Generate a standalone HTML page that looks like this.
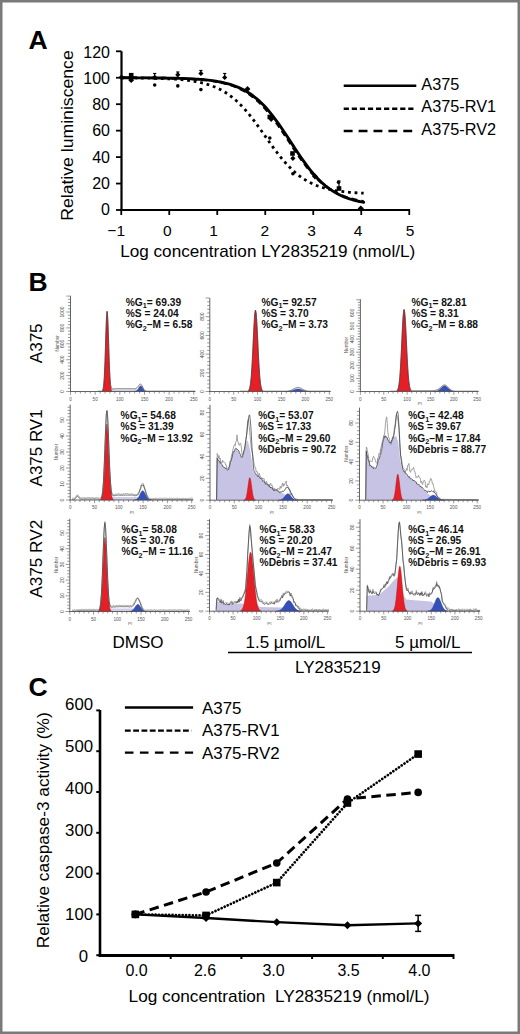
<!DOCTYPE html>
<html><head><meta charset="utf-8"><style>
html,body{margin:0;padding:0;background:#fff;width:520px;height:1034px;overflow:hidden;}

svg{position:absolute;left:0;top:0;}
text{font-family:"Liberation Sans",sans-serif;}
</style></head><body>
<svg width="520" height="1034" viewBox="0 0 520 1034" font-family="Liberation Sans, sans-serif">
<text x="28.50" y="49.00" font-size="26.5" text-anchor="start" font-weight="bold" fill="#000" >A</text>
<line x1="121.50" y1="51.30" x2="121.50" y2="211.00" stroke="#000" stroke-width="2.2" />
<line x1="120.50" y1="210.00" x2="409.50" y2="210.00" stroke="#000" stroke-width="2.2" />
<line x1="116.00" y1="210.00" x2="121.50" y2="210.00" stroke="#000" stroke-width="1.8" />
<text x="110.00" y="214.58" font-size="16" text-anchor="end" fill="#000" >0</text>
<line x1="116.00" y1="183.55" x2="121.50" y2="183.55" stroke="#000" stroke-width="1.8" />
<text x="110.00" y="188.55" font-size="16" text-anchor="end" fill="#000" >20</text>
<line x1="116.00" y1="157.10" x2="121.50" y2="157.10" stroke="#000" stroke-width="1.8" />
<text x="110.00" y="162.52" font-size="16" text-anchor="end" fill="#000" >40</text>
<line x1="116.00" y1="130.65" x2="121.50" y2="130.65" stroke="#000" stroke-width="1.8" />
<text x="110.00" y="136.49" font-size="16" text-anchor="end" fill="#000" >60</text>
<line x1="116.00" y1="104.20" x2="121.50" y2="104.20" stroke="#000" stroke-width="1.8" />
<text x="110.00" y="110.46" font-size="16" text-anchor="end" fill="#000" >80</text>
<line x1="116.00" y1="77.75" x2="121.50" y2="77.75" stroke="#000" stroke-width="1.8" />
<text x="110.00" y="84.43" font-size="16" text-anchor="end" fill="#000" >100</text>
<line x1="116.00" y1="51.30" x2="121.50" y2="51.30" stroke="#000" stroke-width="1.8" />
<text x="110.00" y="58.40" font-size="16" text-anchor="end" fill="#000" >120</text>
<line x1="121.25" y1="209.00" x2="121.25" y2="215.00" stroke="#000" stroke-width="1.8" />
<line x1="169.25" y1="209.00" x2="169.25" y2="215.00" stroke="#000" stroke-width="1.8" />
<line x1="217.25" y1="209.00" x2="217.25" y2="215.00" stroke="#000" stroke-width="1.8" />
<line x1="265.25" y1="209.00" x2="265.25" y2="215.00" stroke="#000" stroke-width="1.8" />
<line x1="313.25" y1="209.00" x2="313.25" y2="215.00" stroke="#000" stroke-width="1.8" />
<line x1="361.25" y1="209.00" x2="361.25" y2="215.00" stroke="#000" stroke-width="1.8" />
<line x1="409.25" y1="209.00" x2="409.25" y2="215.00" stroke="#000" stroke-width="1.8" />
<text x="116.20" y="236.30" font-size="15.5" text-anchor="middle" fill="#000" >&#8722;1</text>
<text x="167.40" y="236.30" font-size="15.5" text-anchor="middle" fill="#000" >0</text>
<text x="213.50" y="236.30" font-size="15.5" text-anchor="middle" fill="#000" >1</text>
<text x="264.90" y="236.30" font-size="15.5" text-anchor="middle" fill="#000" >2</text>
<text x="311.50" y="236.30" font-size="15.5" text-anchor="middle" fill="#000" >3</text>
<text x="358.10" y="236.30" font-size="15.5" text-anchor="middle" fill="#000" >4</text>
<text x="410.00" y="236.30" font-size="15.5" text-anchor="middle" fill="#000" >5</text>
<text x="120.20" y="257.30" font-size="16.6" text-anchor="start" fill="#000" textLength="295" lengthAdjust="spacingAndGlyphs">Log concentration LY2835219 (nmol/L)</text>
<text transform="translate(72.9,220.8) rotate(-90)" font-size="17" textLength="170.5" lengthAdjust="spacingAndGlyphs">Relative luminiscence</text>
<polyline points="121.25,77.79 123.27,77.79 125.29,77.80 127.31,77.80 129.33,77.81 131.35,77.81 133.37,77.82 135.39,77.82 137.41,77.83 139.43,77.84 141.45,77.85 143.47,77.86 145.49,77.87 147.51,77.88 149.53,77.90 151.55,77.91 153.57,77.93 155.59,77.95 157.61,77.97 159.63,77.99 161.65,78.01 163.67,78.04 165.69,78.07 167.71,78.10 169.73,78.14 171.75,78.18 173.77,78.22 175.79,78.27 177.81,78.32 179.83,78.38 181.85,78.44 183.87,78.51 185.89,78.59 187.91,78.67 189.93,78.76 191.95,78.87 193.97,78.98 195.99,79.10 198.01,79.24 200.03,79.39 202.05,79.55 204.07,79.73 206.09,79.93 208.11,80.15 210.13,80.39 212.15,80.65 214.17,80.93 216.19,81.25 218.21,81.60 220.23,81.97 222.25,82.39 224.27,82.84 226.29,83.34 228.31,83.88 230.33,84.47 232.35,85.11 234.37,85.82 236.39,86.58 238.41,87.41 240.43,88.31 242.45,89.29 244.47,90.35 246.49,91.49 248.51,92.73 250.53,94.06 252.55,95.49 254.57,97.02 256.59,98.66 258.61,100.42 260.63,102.28 262.65,104.26 264.67,106.36 266.69,108.57 268.71,110.90 270.73,113.33 272.75,115.88 274.77,118.52 276.79,121.27 278.81,124.09 280.83,127.00 282.85,129.97 284.87,133.00 286.89,136.06 288.91,139.15 290.93,142.26 292.95,145.36 294.97,148.45 296.99,151.51 299.01,154.52 301.03,157.48 303.05,160.37 305.07,163.18 307.09,165.90 309.11,168.52 311.13,171.04 313.15,173.45 315.17,175.75 317.19,177.93 319.21,180.00 321.23,181.95 323.25,183.79 325.27,185.52 327.29,187.13 329.31,188.64 331.33,190.05 333.35,191.36 335.37,192.57 337.39,193.69 339.41,194.73 341.43,195.69 343.45,196.58 345.47,197.39 347.49,198.14 349.51,198.83 351.53,199.46 353.55,200.04 355.57,200.57 357.59,201.05 359.61,201.50 361.63,201.90 363.65,202.27" fill="none" stroke="#000" stroke-width="2.9" stroke-linecap="round"/>
<polyline points="121.25,77.79 123.27,77.80 125.29,77.80 127.31,77.80 129.33,77.81 131.35,77.82 133.37,77.82 135.39,77.83 137.41,77.84 139.43,77.85 141.45,77.86 143.47,77.87 145.49,77.88 147.51,77.89 149.53,77.91 151.55,77.93 153.57,77.94 155.59,77.96 157.61,77.98 159.63,78.01 161.65,78.03 163.67,78.06 165.69,78.10 167.71,78.13 169.73,78.17 171.75,78.21 173.77,78.26 175.79,78.31 177.81,78.37 179.83,78.43 181.85,78.50 183.87,78.57 185.89,78.66 187.91,78.75 189.93,78.85 191.95,78.96 193.97,79.08 195.99,79.21 198.01,79.36 200.03,79.52 202.05,79.70 204.07,79.90 206.09,80.11 208.11,80.35 210.13,80.60 212.15,80.89 214.17,81.20 216.19,81.54 218.21,81.91 220.23,82.32 222.25,82.77 224.27,83.25 226.29,83.79 228.31,84.37 230.33,85.00 232.35,85.70 234.37,86.45 236.39,87.27 238.41,88.16 240.43,89.12 242.45,90.17 244.47,91.29 246.49,92.51 248.51,93.82 250.53,95.23 252.55,96.75 254.57,98.37 256.59,100.09 258.61,101.94 260.63,103.89 262.65,105.96 264.67,108.14 266.69,110.44 268.71,112.84 270.73,115.36 272.75,117.97 274.77,120.68 276.79,123.48 278.81,126.35 280.83,129.28 282.85,132.28 284.87,135.31 286.89,138.37 288.91,141.44 290.93,144.52 292.95,147.57 294.97,150.60 296.99,153.59 299.01,156.52 301.03,159.38 303.05,162.16 305.07,164.86 307.09,167.46 309.11,169.96 311.13,172.35 313.15,174.63 315.17,176.80 317.19,178.85 319.21,180.79 321.23,182.61 323.25,184.32 325.27,185.93 327.29,187.43 329.31,188.82 331.33,190.12 333.35,191.33 335.37,192.44 337.39,193.48 339.41,194.43 341.43,195.31 343.45,196.12 345.47,196.86 347.49,197.55 349.51,198.17 351.53,198.75 353.55,199.28 355.57,199.76 357.59,200.20 359.61,200.60 361.63,200.97 363.65,201.31" fill="none" stroke="#000" stroke-width="2.4" stroke-dasharray="6 4"/>
<polyline points="121.25,77.85 123.27,77.86 125.29,77.88 127.31,77.89 129.33,77.90 131.35,77.92 133.37,77.94 135.39,77.96 137.41,77.98 139.43,78.00 141.45,78.03 143.47,78.06 145.49,78.09 147.51,78.12 149.53,78.16 151.55,78.20 153.57,78.25 155.59,78.30 157.61,78.36 159.63,78.42 161.65,78.49 163.67,78.57 165.69,78.65 167.71,78.74 169.73,78.84 171.75,78.96 173.77,79.08 175.79,79.22 177.81,79.37 179.83,79.53 181.85,79.71 183.87,79.91 185.89,80.13 187.91,80.38 189.93,80.64 191.95,80.93 193.97,81.25 195.99,81.60 198.01,81.99 200.03,82.41 202.05,82.88 204.07,83.38 206.09,83.93 208.11,84.54 210.13,85.20 212.15,85.92 214.17,86.70 216.19,87.55 218.21,88.47 220.23,89.48 222.25,90.56 224.27,91.73 226.29,92.99 228.31,94.34 230.33,95.80 232.35,97.36 234.37,99.02 236.39,100.79 238.41,102.67 240.43,104.66 242.45,106.75 244.47,108.96 246.49,111.26 248.51,113.67 250.53,116.17 252.55,118.75 254.57,121.41 256.59,124.13 258.61,126.91 260.63,129.73 262.65,132.59 264.67,135.46 266.69,138.33 268.71,141.19 270.73,144.02 272.75,146.82 274.77,149.56 276.79,152.25 278.81,154.85 280.83,157.38 282.85,159.82 284.87,162.16 286.89,164.40 288.91,166.53 290.93,168.55 292.95,170.47 294.97,172.28 296.99,173.98 299.01,175.57 301.03,177.06 303.05,178.45 305.07,179.74 307.09,180.94 309.11,182.05 311.13,183.08 313.15,184.03 315.17,184.90 317.19,185.71 319.21,186.45 321.23,187.12 323.25,187.75 325.27,188.32 327.29,188.84 329.31,189.32 331.33,189.75 333.35,190.15 335.37,190.51 337.39,190.84 339.41,191.14 341.43,191.42 343.45,191.67 345.47,191.89 347.49,192.10 349.51,192.29 351.53,192.46 353.55,192.61 355.57,192.76 357.59,192.88 359.61,193.00 361.63,193.10 363.65,193.20" fill="none" stroke="#000" stroke-width="2.8" stroke-dasharray="2.8 3.8"/>
<polygon points="121.50,74.40 124.40,77.30 121.50,80.20 118.60,77.30" fill="#000"/>
<rect x="128.90" y="72.90" width="4.60" height="4.60" fill="#000"/>
<polygon points="131.20,77.30 134.10,80.20 131.20,83.10 128.30,80.20" fill="#000"/>
<line x1="154.70" y1="73.50" x2="154.70" y2="77.00" stroke="#000" stroke-width="1.2" />
<line x1="153.10" y1="73.50" x2="156.30" y2="73.50" stroke="#000" stroke-width="1.2" />
<polygon points="154.70,74.70 157.20,77.20 154.70,79.70 152.20,77.20" fill="#000"/>
<circle cx="154.70" cy="85.00" r="1.8" fill="#000"/>
<line x1="177.80" y1="72.00" x2="177.80" y2="75.00" stroke="#000" stroke-width="1.2" />
<line x1="176.20" y1="72.00" x2="179.40" y2="72.00" stroke="#000" stroke-width="1.2" />
<polygon points="177.80,72.20 180.40,74.80 177.80,77.40 175.20,74.80" fill="#000"/>
<circle cx="177.80" cy="85.90" r="1.8" fill="#000"/>
<line x1="200.90" y1="70.50" x2="200.90" y2="74.00" stroke="#000" stroke-width="1.2" />
<line x1="199.30" y1="70.50" x2="202.50" y2="70.50" stroke="#000" stroke-width="1.2" />
<polygon points="200.90,70.90 203.50,73.50 200.90,76.10 198.30,73.50" fill="#000"/>
<circle cx="200.90" cy="89.60" r="1.8" fill="#000"/>
<line x1="224.70" y1="73.50" x2="224.70" y2="77.00" stroke="#000" stroke-width="1.2" />
<line x1="223.10" y1="73.50" x2="226.30" y2="73.50" stroke="#000" stroke-width="1.2" />
<polygon points="224.70,74.90 227.30,77.50 224.70,80.10 222.10,77.50" fill="#000"/>
<polygon points="247.50,86.10 250.40,89.00 247.50,91.90 244.60,89.00" fill="#000"/>
<rect x="267.50" y="114.70" width="4.60" height="4.60" fill="#000"/>
<polygon points="271.20,117.10 273.60,119.50 271.20,121.90 268.80,119.50" fill="#000"/>
<circle cx="269.80" cy="138.00" r="1.8" fill="#000"/>
<rect x="290.20" y="151.20" width="4.60" height="4.60" fill="#000"/>
<polygon points="292.90,155.70 295.50,158.30 292.90,160.90 290.30,158.30" fill="#000"/>
<circle cx="292.90" cy="173.70" r="1.8" fill="#000"/>
<polygon points="315.00,173.50 318.00,176.50 315.00,179.50 312.00,176.50" fill="#000"/>
<circle cx="338.50" cy="182.30" r="1.8" fill="#000"/>
<rect x="336.70" y="186.20" width="4.60" height="4.60" fill="#000"/>
<line x1="339.00" y1="181.00" x2="339.00" y2="190.00" stroke="#000" stroke-width="1.2" />
<line x1="337.40" y1="181.00" x2="340.60" y2="181.00" stroke="#000" stroke-width="1.2" />
<polygon points="360.80,205.40 363.90,208.50 360.80,211.60 357.70,208.50" fill="#000"/>
<line x1="343.70" y1="85.80" x2="416.30" y2="85.80" stroke="#000" stroke-width="2.6" />
<line x1="343.70" y1="108.70" x2="416.30" y2="108.70" stroke="#000" stroke-width="2.5" stroke-dasharray="5.2 2.87"/>
<line x1="343.70" y1="131.00" x2="413.00" y2="131.00" stroke="#000" stroke-width="2.5" stroke-dasharray="8.9 6"/>
<text x="421.30" y="89.90" font-size="16.3" text-anchor="start" fill="#000" >A375</text>
<text x="421.30" y="112.40" font-size="16.3" text-anchor="start" fill="#000" >A375-RV1</text>
<text x="421.30" y="134.50" font-size="16.3" text-anchor="start" fill="#000" >A375-RV2</text>
<text x="28.50" y="696.00" font-size="26.5" text-anchor="start" font-weight="bold" fill="#000" >C</text>
<line x1="100.00" y1="710.00" x2="100.00" y2="957.00" stroke="#000" stroke-width="2.6" />
<line x1="98.70" y1="955.40" x2="454.00" y2="955.40" stroke="#000" stroke-width="3" />
<line x1="96.30" y1="710.40" x2="100.00" y2="710.40" stroke="#000" stroke-width="2" />
<line x1="96.30" y1="751.20" x2="100.00" y2="751.20" stroke="#000" stroke-width="2" />
<line x1="96.30" y1="792.00" x2="100.00" y2="792.00" stroke="#000" stroke-width="2" />
<line x1="96.30" y1="832.80" x2="100.00" y2="832.80" stroke="#000" stroke-width="2" />
<line x1="96.30" y1="873.60" x2="100.00" y2="873.60" stroke="#000" stroke-width="2" />
<line x1="96.30" y1="914.40" x2="100.00" y2="914.40" stroke="#000" stroke-width="2" />
<line x1="96.30" y1="955.20" x2="100.00" y2="955.20" stroke="#000" stroke-width="2" />
<text x="93.10" y="710.20" font-size="16.8" text-anchor="end" fill="#000" >600</text>
<text x="93.10" y="752.40" font-size="16.8" text-anchor="end" fill="#000" >500</text>
<text x="93.10" y="794.20" font-size="16.8" text-anchor="end" fill="#000" >400</text>
<text x="93.10" y="835.70" font-size="16.8" text-anchor="end" fill="#000" >300</text>
<text x="93.10" y="878.10" font-size="16.8" text-anchor="end" fill="#000" >200</text>
<text x="93.10" y="920.10" font-size="16.8" text-anchor="end" fill="#000" >100</text>
<text x="88.20" y="961.50" font-size="16.8" text-anchor="end" fill="#000" >0</text>
<line x1="170.70" y1="954.00" x2="170.70" y2="959.00" stroke="#000" stroke-width="2" />
<line x1="241.40" y1="954.00" x2="241.40" y2="959.00" stroke="#000" stroke-width="2" />
<line x1="312.10" y1="954.00" x2="312.10" y2="959.00" stroke="#000" stroke-width="2" />
<line x1="382.80" y1="954.00" x2="382.80" y2="959.00" stroke="#000" stroke-width="2" />
<line x1="453.50" y1="954.00" x2="453.50" y2="959.00" stroke="#000" stroke-width="2" />
<text x="136.60" y="976.00" font-size="16" text-anchor="middle" fill="#000" >0.0</text>
<text x="205.10" y="976.00" font-size="16" text-anchor="middle" fill="#000" >2.6</text>
<text x="273.60" y="976.00" font-size="16" text-anchor="middle" fill="#000" >3.0</text>
<text x="348.50" y="976.00" font-size="16" text-anchor="middle" fill="#000" >3.5</text>
<text x="419.40" y="976.00" font-size="16" text-anchor="middle" fill="#000" >4.0</text>
<text x="128.60" y="1002.00" font-size="16.6" text-anchor="start" fill="#000" textLength="301" lengthAdjust="spacingAndGlyphs">Log concentration&#160;&#160;LY2835219 (nmol/L)</text>
<text transform="translate(48.6,948.3) rotate(-90)" font-size="17" textLength="236" lengthAdjust="spacingAndGlyphs">Relative caspase-3 activity (%)</text>
<polyline points="135.35,914.40 206.05,918.07 276.75,922.15 347.45,925.21 418.15,923.38" fill="none" stroke="#000" stroke-width="2.4" />
<polyline points="135.35,914.40 206.05,915.42 276.75,882.58 347.45,803.02 418.15,754.06" fill="none" stroke="#000" stroke-width="2.7" stroke-dasharray="0.01 3.37" stroke-linecap="round"/>
<polyline points="135.35,914.40 206.05,891.96 276.75,862.99 347.45,798.94 418.15,792.41" fill="none" stroke="#000" stroke-width="3" stroke-dasharray="9.5 5.5"/>
<rect x="132.55" y="911.60" width="5.6" height="5.6" transform="rotate(45 135.35 914.40)" fill="#000"/>
<rect x="203.25" y="915.27" width="5.6" height="5.6" transform="rotate(45 206.05 918.07)" fill="#000"/>
<rect x="273.95" y="919.35" width="5.6" height="5.6" transform="rotate(45 276.75 922.15)" fill="#000"/>
<rect x="344.65" y="922.41" width="5.6" height="5.6" transform="rotate(45 347.45 925.21)" fill="#000"/>
<rect x="415.35" y="920.58" width="5.6" height="5.6" transform="rotate(45 418.15 923.38)" fill="#000"/>
<rect x="131.55" y="910.60" width="7.6" height="7.6" fill="#000"/>
<rect x="202.25" y="911.62" width="7.6" height="7.6" fill="#000"/>
<rect x="272.95" y="878.78" width="7.6" height="7.6" fill="#000"/>
<rect x="343.65" y="799.22" width="7.6" height="7.6" fill="#000"/>
<rect x="414.35" y="750.26" width="7.6" height="7.6" fill="#000"/>
<circle cx="135.35" cy="914.40" r="3.8" fill="#000"/>
<circle cx="206.05" cy="891.96" r="3.8" fill="#000"/>
<circle cx="276.75" cy="862.99" r="3.8" fill="#000"/>
<circle cx="347.45" cy="798.94" r="3.8" fill="#000"/>
<circle cx="418.15" cy="792.41" r="3.8" fill="#000"/>
<line x1="418.15" y1="915.38" x2="418.15" y2="931.38" stroke="#000" stroke-width="1.5" />
<line x1="415.15" y1="915.38" x2="421.15" y2="915.38" stroke="#000" stroke-width="1.5" />
<line x1="415.15" y1="931.38" x2="421.15" y2="931.38" stroke="#000" stroke-width="1.5" />
<line x1="124.90" y1="707.50" x2="193.10" y2="707.50" stroke="#000" stroke-width="2.3" />
<line x1="124.90" y1="730.60" x2="191.50" y2="730.60" stroke="#000" stroke-width="2.3" stroke-dasharray="5.8 2.5"/>
<line x1="124.90" y1="752.60" x2="193.10" y2="752.60" stroke="#000" stroke-width="2.3" stroke-dasharray="8.6 6.4"/>
<text x="202.00" y="713.80" font-size="16.9" text-anchor="start" fill="#000" >A375</text>
<text x="202.00" y="736.30" font-size="16.9" text-anchor="start" fill="#000" >A375-RV1</text>
<text x="202.00" y="758.50" font-size="16.9" text-anchor="start" fill="#000" >A375-RV2</text>
<text x="28.50" y="291.00" font-size="26.5" text-anchor="start" font-weight="bold" fill="#000" >B</text>
<text transform="translate(42.4,363.2) rotate(-90)" font-size="16.4" textLength="39.8" lengthAdjust="spacingAndGlyphs">A375</text>
<text transform="translate(42.4,486.4) rotate(-90)" font-size="16.4" textLength="77" lengthAdjust="spacingAndGlyphs">A375 RV1</text>
<text transform="translate(42.4,597.8) rotate(-90)" font-size="16.4" textLength="78" lengthAdjust="spacingAndGlyphs">A375 RV2</text>
<text x="112.50" y="647.70" font-size="17" text-anchor="start" fill="#000" >DMSO</text>
<text x="245.50" y="647.90" font-size="17" text-anchor="start" fill="#000" >1.5 &#181;mol/L</text>
<text x="395.00" y="647.90" font-size="17" text-anchor="start" fill="#000" >5 &#181;mol/L</text>
<line x1="228.00" y1="652.50" x2="472.00" y2="652.50" stroke="#000" stroke-width="1.5" />
<text x="295.00" y="673.20" font-size="17" text-anchor="start" fill="#000" >LY2835219</text>
<rect x="0" y="0" width="520" height="1034" fill="none" stroke="#7a7a7a" stroke-width="5"/>
<rect x="111.00" y="389.50" width="26.00" height="2.00" fill="#d0cde8"/>
<polygon points="102.35,391.50 102.35,390.97 102.60,390.61 102.85,390.05 103.10,389.21 103.35,387.99 103.60,386.24 103.85,383.85 104.10,380.67 104.35,376.60 104.60,371.55 104.85,365.53 105.10,358.61 105.35,350.99 105.60,342.98 105.85,334.97 106.10,327.44 106.35,320.90 106.60,315.82 106.85,312.60 107.10,311.50 107.35,312.60 107.60,315.82 107.85,320.90 108.10,327.44 108.35,334.97 108.60,342.98 108.85,350.99 109.10,358.61 109.35,365.53 109.60,371.55 109.85,376.60 110.10,380.67 110.35,383.85 110.60,386.24 110.85,387.99 111.10,389.21 111.35,390.05 111.60,390.61 111.85,390.97 111.85,391.50" fill="#e61e26" stroke="#b0141c" stroke-width="0.5"/>
<polygon points="134.35,391.50 134.35,391.46 134.60,391.44 134.85,391.41 135.10,391.37 135.35,391.32 135.60,391.26 135.85,391.17 136.10,391.06 136.35,390.92 136.60,390.76 136.85,390.55 137.10,390.31 137.35,390.03 137.60,389.71 137.85,389.36 138.10,388.98 138.35,388.58 138.60,388.16 138.85,387.75 139.10,387.35 139.35,386.98 139.60,386.65 139.85,386.37 140.10,386.17 140.35,386.04 140.60,386.00 140.85,386.04 141.10,386.17 141.35,386.37 141.60,386.65 141.85,386.98 142.10,387.35 142.35,387.75 142.60,388.16 142.85,388.58 143.10,388.98 143.35,389.36 143.60,389.71 143.85,390.03 144.10,390.31 144.35,390.55 144.60,390.76 144.85,390.92 145.10,391.06 145.35,391.17 145.60,391.26 145.85,391.32 146.10,391.37 146.35,391.41 146.60,391.44 146.85,391.46 146.85,391.50" fill="#3550b8" stroke="#243a90" stroke-width="0.5"/>
<polyline points="98.00,391.20 98.70,391.20 99.40,391.20 100.10,391.20 100.80,391.20 101.50,391.20 102.20,391.11 102.90,389.91 103.60,386.24 104.30,377.49 105.00,361.48 105.70,339.60 106.40,319.52 107.10,311.15 107.80,319.23 108.50,338.99 109.20,360.44 109.90,376.14 110.60,384.57 111.30,387.94 112.00,388.90 112.70,389.02 113.40,388.95 114.10,388.87 114.80,388.81 115.50,388.77 116.20,388.74 116.90,388.73 117.60,388.72 118.30,388.71 119.00,388.71 119.70,388.70 120.40,388.70 121.10,388.70 121.80,388.70 122.50,388.70 123.20,388.70 123.90,388.70 124.60,388.70 125.30,388.70 126.00,388.70 126.70,388.70 127.40,388.70 128.10,388.70 128.80,388.71 129.50,388.71 130.20,388.72 130.90,388.72 131.60,388.74 132.30,388.76 133.00,388.78 133.70,388.80 134.40,388.80 135.10,388.75 135.80,388.58 136.50,388.22 137.20,387.61 137.90,386.76 138.60,385.75 139.30,384.79 140.00,384.17 140.70,384.11 141.40,384.68 142.10,385.78 142.80,387.25 143.50,388.56 144.20,389.66 144.90,390.46 145.60,390.97 146.30,391.20 147.00,391.20 147.70,391.20 148.40,391.20 149.10,391.20 149.80,391.20 150.50,391.20 151.20,391.20 151.90,391.20 152.60,391.20 153.30,391.20 154.00,391.20 154.70,391.20 155.40,391.20 156.10,391.20 156.80,391.20 157.50,391.20 158.20,391.20 158.90,391.20 159.60,391.20 160.30,391.20 161.00,391.20 161.70,391.20 162.40,391.20 163.10,391.20 163.80,391.20 164.50,391.20 165.20,391.20 165.90,391.20 166.60,391.20 167.30,391.20 168.00,391.20 168.70,391.20 169.40,391.20 170.10,391.20 170.80,391.20 171.50,391.20 172.20,391.20 172.90,391.20 173.60,391.20 174.30,391.20 175.00,391.20 175.70,391.20 176.40,391.20 177.10,391.20 177.80,391.20 178.50,391.20 179.20,391.20 179.90,391.20 180.60,391.20 181.30,391.20 182.00,391.20 182.70,391.20 183.40,391.20 184.10,391.20 184.80,391.20 185.50,391.20 186.20,391.20 186.90,391.20 187.60,391.20 188.30,391.20 189.00,391.20 189.70,391.20 190.40,391.20 191.10,391.20 191.80,391.20 192.50,391.20 193.20,391.20 193.90,391.20 194.60,391.20 195.30,391.20" fill="none" stroke="#444" stroke-width="0.7"/>
<line x1="70.50" y1="295.80" x2="70.50" y2="392.00" stroke="#555" stroke-width="0.9"/>
<line x1="70.00" y1="391.50" x2="195.30" y2="391.50" stroke="#555" stroke-width="0.9"/>
<line x1="66.30" y1="391.50" x2="70.50" y2="391.50" stroke="#555" stroke-width="0.6"/>
<line x1="67.90" y1="388.32" x2="70.50" y2="388.32" stroke="#555" stroke-width="0.6"/>
<line x1="67.90" y1="385.14" x2="70.50" y2="385.14" stroke="#555" stroke-width="0.6"/>
<line x1="67.90" y1="381.96" x2="70.50" y2="381.96" stroke="#555" stroke-width="0.6"/>
<line x1="67.90" y1="378.78" x2="70.50" y2="378.78" stroke="#555" stroke-width="0.6"/>
<line x1="66.30" y1="375.60" x2="70.50" y2="375.60" stroke="#555" stroke-width="0.6"/>
<line x1="67.90" y1="372.42" x2="70.50" y2="372.42" stroke="#555" stroke-width="0.6"/>
<line x1="67.90" y1="369.24" x2="70.50" y2="369.24" stroke="#555" stroke-width="0.6"/>
<line x1="67.90" y1="366.06" x2="70.50" y2="366.06" stroke="#555" stroke-width="0.6"/>
<line x1="67.90" y1="362.88" x2="70.50" y2="362.88" stroke="#555" stroke-width="0.6"/>
<line x1="66.30" y1="359.70" x2="70.50" y2="359.70" stroke="#555" stroke-width="0.6"/>
<line x1="67.90" y1="356.52" x2="70.50" y2="356.52" stroke="#555" stroke-width="0.6"/>
<line x1="67.90" y1="353.34" x2="70.50" y2="353.34" stroke="#555" stroke-width="0.6"/>
<line x1="67.90" y1="350.16" x2="70.50" y2="350.16" stroke="#555" stroke-width="0.6"/>
<line x1="67.90" y1="346.98" x2="70.50" y2="346.98" stroke="#555" stroke-width="0.6"/>
<line x1="66.30" y1="343.80" x2="70.50" y2="343.80" stroke="#555" stroke-width="0.6"/>
<line x1="67.90" y1="340.62" x2="70.50" y2="340.62" stroke="#555" stroke-width="0.6"/>
<line x1="67.90" y1="337.44" x2="70.50" y2="337.44" stroke="#555" stroke-width="0.6"/>
<line x1="67.90" y1="334.26" x2="70.50" y2="334.26" stroke="#555" stroke-width="0.6"/>
<line x1="67.90" y1="331.08" x2="70.50" y2="331.08" stroke="#555" stroke-width="0.6"/>
<line x1="66.30" y1="327.90" x2="70.50" y2="327.90" stroke="#555" stroke-width="0.6"/>
<line x1="67.90" y1="324.72" x2="70.50" y2="324.72" stroke="#555" stroke-width="0.6"/>
<line x1="67.90" y1="321.54" x2="70.50" y2="321.54" stroke="#555" stroke-width="0.6"/>
<line x1="67.90" y1="318.36" x2="70.50" y2="318.36" stroke="#555" stroke-width="0.6"/>
<line x1="67.90" y1="315.18" x2="70.50" y2="315.18" stroke="#555" stroke-width="0.6"/>
<line x1="66.30" y1="312.00" x2="70.50" y2="312.00" stroke="#555" stroke-width="0.6"/>
<line x1="67.90" y1="308.82" x2="70.50" y2="308.82" stroke="#555" stroke-width="0.6"/>
<line x1="67.90" y1="305.64" x2="70.50" y2="305.64" stroke="#555" stroke-width="0.6"/>
<line x1="67.90" y1="302.46" x2="70.50" y2="302.46" stroke="#555" stroke-width="0.6"/>
<line x1="67.90" y1="299.28" x2="70.50" y2="299.28" stroke="#555" stroke-width="0.6"/>
<line x1="66.30" y1="296.10" x2="70.50" y2="296.10" stroke="#555" stroke-width="0.6"/>
<text transform="translate(64.30,391.50) rotate(-90)" font-size="5" text-anchor="middle" fill="#444">0</text>
<text transform="translate(64.30,375.60) rotate(-90)" font-size="5" text-anchor="middle" fill="#444">200</text>
<text transform="translate(64.30,359.70) rotate(-90)" font-size="5" text-anchor="middle" fill="#444">400</text>
<text transform="translate(64.30,343.80) rotate(-90)" font-size="5" text-anchor="middle" fill="#444">600</text>
<text transform="translate(64.30,327.90) rotate(-90)" font-size="5" text-anchor="middle" fill="#444">800</text>
<text transform="translate(64.30,312.00) rotate(-90)" font-size="5" text-anchor="middle" fill="#444">1000</text>
<text transform="translate(58.50,343.35) rotate(-90)" font-size="4.6" text-anchor="middle" fill="#555">Number</text>
<line x1="70.50" y1="391.50" x2="70.50" y2="394.70" stroke="#555" stroke-width="0.6"/>
<line x1="75.43" y1="391.50" x2="75.43" y2="393.50" stroke="#555" stroke-width="0.6"/>
<line x1="80.36" y1="391.50" x2="80.36" y2="393.50" stroke="#555" stroke-width="0.6"/>
<line x1="85.30" y1="391.50" x2="85.30" y2="393.50" stroke="#555" stroke-width="0.6"/>
<line x1="90.23" y1="391.50" x2="90.23" y2="393.50" stroke="#555" stroke-width="0.6"/>
<line x1="95.16" y1="391.50" x2="95.16" y2="394.70" stroke="#555" stroke-width="0.6"/>
<line x1="100.09" y1="391.50" x2="100.09" y2="393.50" stroke="#555" stroke-width="0.6"/>
<line x1="105.02" y1="391.50" x2="105.02" y2="393.50" stroke="#555" stroke-width="0.6"/>
<line x1="109.96" y1="391.50" x2="109.96" y2="393.50" stroke="#555" stroke-width="0.6"/>
<line x1="114.89" y1="391.50" x2="114.89" y2="393.50" stroke="#555" stroke-width="0.6"/>
<line x1="119.82" y1="391.50" x2="119.82" y2="394.70" stroke="#555" stroke-width="0.6"/>
<line x1="124.75" y1="391.50" x2="124.75" y2="393.50" stroke="#555" stroke-width="0.6"/>
<line x1="129.68" y1="391.50" x2="129.68" y2="393.50" stroke="#555" stroke-width="0.6"/>
<line x1="134.62" y1="391.50" x2="134.62" y2="393.50" stroke="#555" stroke-width="0.6"/>
<line x1="139.55" y1="391.50" x2="139.55" y2="393.50" stroke="#555" stroke-width="0.6"/>
<line x1="144.48" y1="391.50" x2="144.48" y2="394.70" stroke="#555" stroke-width="0.6"/>
<line x1="149.41" y1="391.50" x2="149.41" y2="393.50" stroke="#555" stroke-width="0.6"/>
<line x1="154.34" y1="391.50" x2="154.34" y2="393.50" stroke="#555" stroke-width="0.6"/>
<line x1="159.28" y1="391.50" x2="159.28" y2="393.50" stroke="#555" stroke-width="0.6"/>
<line x1="164.21" y1="391.50" x2="164.21" y2="393.50" stroke="#555" stroke-width="0.6"/>
<line x1="169.14" y1="391.50" x2="169.14" y2="394.70" stroke="#555" stroke-width="0.6"/>
<line x1="174.07" y1="391.50" x2="174.07" y2="393.50" stroke="#555" stroke-width="0.6"/>
<line x1="179.00" y1="391.50" x2="179.00" y2="393.50" stroke="#555" stroke-width="0.6"/>
<line x1="183.94" y1="391.50" x2="183.94" y2="393.50" stroke="#555" stroke-width="0.6"/>
<line x1="188.87" y1="391.50" x2="188.87" y2="393.50" stroke="#555" stroke-width="0.6"/>
<line x1="193.80" y1="391.50" x2="193.80" y2="394.70" stroke="#555" stroke-width="0.6"/>
<text x="70.50" y="400.50" font-size="4.6" text-anchor="middle" fill="#555">0</text>
<text x="95.16" y="400.50" font-size="4.6" text-anchor="middle" fill="#555">50</text>
<text x="119.82" y="400.50" font-size="4.6" text-anchor="middle" fill="#555">100</text>
<text x="144.48" y="400.50" font-size="4.6" text-anchor="middle" fill="#555">150</text>
<text x="169.14" y="400.50" font-size="4.6" text-anchor="middle" fill="#555">200</text>
<text x="193.80" y="400.50" font-size="4.6" text-anchor="middle" fill="#555">250</text>
<text x="125.80" y="305.50" font-size="10.2" font-weight="bold" fill="#111">%G<tspan dy="2.8" font-size="7.2">1</tspan><tspan dy="-2.8">= 69.39</tspan></text>
<text x="125.80" y="316.70" font-size="10.2" font-weight="bold" fill="#111">%S = 24.04</text>
<text x="125.80" y="327.90" font-size="10.2" font-weight="bold" fill="#111">%G<tspan dy="2.8" font-size="7.2">2</tspan><tspan dy="-2.8">&#8211;M = 6.58</tspan></text>
<polygon points="248.25,391.50 248.25,390.93 248.50,390.71 248.75,390.40 249.00,390.00 249.25,389.47 249.50,388.79 249.75,387.92 250.00,386.83 250.25,385.49 250.50,383.84 250.75,381.85 251.00,379.49 251.25,376.74 251.50,373.56 251.75,369.95 252.00,365.93 252.25,361.51 252.50,356.73 252.75,351.67 253.00,346.41 253.25,341.06 253.50,335.73 253.75,330.56 254.00,325.69 254.25,321.28 254.50,317.44 254.75,314.31 255.00,312.00 255.25,310.58 255.50,310.10 255.75,310.58 256.00,312.00 256.25,314.31 256.50,317.44 256.75,321.28 257.00,325.69 257.25,330.56 257.50,335.73 257.75,341.06 258.00,346.41 258.25,351.67 258.50,356.73 258.75,361.51 259.00,365.93 259.25,369.95 259.50,373.56 259.75,376.74 260.00,379.49 260.25,381.85 260.50,383.84 260.75,385.49 261.00,386.83 261.25,387.92 261.50,388.79 261.75,389.47 262.00,390.00 262.25,390.40 262.50,390.71 262.75,390.93 262.75,391.50" fill="#e61e26" stroke="#b0141c" stroke-width="0.5"/>
<polygon points="285.15,391.50 285.15,391.48 285.40,391.48 285.65,391.48 285.90,391.47 286.15,391.47 286.40,391.46 286.65,391.45 286.90,391.44 287.15,391.43 287.40,391.42 287.65,391.41 287.90,391.39 288.15,391.37 288.40,391.35 288.65,391.33 288.90,391.30 289.15,391.27 289.40,391.24 289.65,391.20 289.90,391.16 290.15,391.12 290.40,391.07 290.65,391.02 290.90,390.96 291.15,390.90 291.40,390.83 291.65,390.76 291.90,390.69 292.15,390.61 292.40,390.53 292.65,390.44 292.90,390.36 293.15,390.26 293.40,390.17 293.65,390.08 293.90,389.98 294.15,389.89 294.40,389.80 294.65,389.70 294.90,389.61 295.15,389.53 295.40,389.44 295.65,389.37 295.90,389.29 296.15,389.23 296.40,389.17 296.65,389.12 296.90,389.08 297.15,389.04 297.40,389.02 297.65,389.00 297.90,389.00 298.15,389.00 298.40,389.02 298.65,389.04 298.90,389.08 299.15,389.12 299.40,389.17 299.65,389.23 299.90,389.29 300.15,389.37 300.40,389.44 300.65,389.53 300.90,389.61 301.15,389.70 301.40,389.80 301.65,389.89 301.90,389.98 302.15,390.08 302.40,390.17 302.65,390.26 302.90,390.36 303.15,390.44 303.40,390.53 303.65,390.61 303.90,390.69 304.15,390.76 304.40,390.83 304.65,390.90 304.90,390.96 305.15,391.02 305.40,391.07 305.65,391.12 305.90,391.16 306.15,391.20 306.40,391.24 306.65,391.27 306.90,391.30 307.15,391.33 307.40,391.35 307.65,391.37 307.90,391.39 308.15,391.41 308.40,391.42 308.65,391.43 308.90,391.44 309.15,391.45 309.40,391.46 309.65,391.47 309.90,391.47 310.15,391.48 310.40,391.48 310.65,391.48 310.65,391.50" fill="#3550b8" stroke="#243a90" stroke-width="0.5"/>
<polyline points="240.00,391.20 240.70,391.20 241.40,391.20 242.10,391.20 242.80,391.20 243.50,391.20 244.20,391.20 244.90,391.20 245.60,391.20 246.30,391.20 247.00,391.20 247.70,391.20 248.40,390.81 249.10,389.80 249.80,387.72 250.50,383.84 251.20,377.32 251.90,367.59 252.60,354.74 253.30,339.98 254.00,325.69 254.70,314.88 255.40,310.18 256.10,312.82 256.80,322.12 257.50,335.73 258.20,350.63 258.90,364.20 259.60,374.88 260.30,382.28 261.00,386.83 261.70,389.35 262.40,390.60 263.10,391.15 263.80,391.20 264.50,391.20 265.20,391.20 265.90,391.20 266.60,391.20 267.30,391.20 268.00,391.20 268.70,391.20 269.40,391.20 270.10,391.20 270.80,391.20 271.50,391.20 272.20,391.20 272.90,391.20 273.60,391.20 274.30,391.20 275.00,391.20 275.70,391.20 276.40,391.20 277.10,391.20 277.80,391.20 278.50,391.20 279.20,391.20 279.90,391.20 280.60,391.20 281.30,391.20 282.00,391.20 282.70,391.20 283.40,391.20 284.10,391.20 284.80,391.20 285.50,391.20 286.20,391.20 286.90,391.20 287.60,391.20 288.30,391.09 289.00,390.93 289.70,390.74 290.40,390.50 291.10,390.22 291.80,389.90 292.50,389.55 293.20,389.18 293.90,388.81 294.60,388.44 295.30,388.11 296.00,387.84 296.70,387.64 297.40,387.52 298.10,387.50 298.80,387.58 299.50,387.75 300.20,387.99 300.90,388.30 301.60,388.65 302.30,389.02 303.00,389.40 303.70,389.76 304.40,390.09 305.10,390.39 305.80,390.64 306.50,390.86 307.20,391.03 307.90,391.16 308.60,391.20 309.30,391.20 310.00,391.20 310.70,391.20 311.40,391.20 312.10,391.20 312.80,391.20 313.50,391.20 314.20,391.20 314.90,391.20 315.60,391.20 316.30,391.20 317.00,391.20 317.70,391.20 318.40,391.20 319.10,391.20 319.80,391.20 320.50,391.20 321.20,391.20 321.90,391.20 322.60,391.20 323.30,391.20 324.00,391.20 324.70,391.20 325.40,391.20 326.10,391.20 326.80,391.20 327.50,391.20 328.20,391.20 328.90,391.20 329.60,391.20 330.30,391.20" fill="none" stroke="#444" stroke-width="0.7"/>
<line x1="209.80" y1="298.10" x2="209.80" y2="392.00" stroke="#555" stroke-width="0.9"/>
<line x1="209.30" y1="391.50" x2="330.80" y2="391.50" stroke="#555" stroke-width="0.9"/>
<line x1="205.60" y1="391.50" x2="209.80" y2="391.50" stroke="#555" stroke-width="0.6"/>
<line x1="207.20" y1="387.76" x2="209.80" y2="387.76" stroke="#555" stroke-width="0.6"/>
<line x1="207.20" y1="384.02" x2="209.80" y2="384.02" stroke="#555" stroke-width="0.6"/>
<line x1="207.20" y1="380.28" x2="209.80" y2="380.28" stroke="#555" stroke-width="0.6"/>
<line x1="207.20" y1="376.54" x2="209.80" y2="376.54" stroke="#555" stroke-width="0.6"/>
<line x1="205.60" y1="372.80" x2="209.80" y2="372.80" stroke="#555" stroke-width="0.6"/>
<line x1="207.20" y1="369.06" x2="209.80" y2="369.06" stroke="#555" stroke-width="0.6"/>
<line x1="207.20" y1="365.32" x2="209.80" y2="365.32" stroke="#555" stroke-width="0.6"/>
<line x1="207.20" y1="361.58" x2="209.80" y2="361.58" stroke="#555" stroke-width="0.6"/>
<line x1="207.20" y1="357.84" x2="209.80" y2="357.84" stroke="#555" stroke-width="0.6"/>
<line x1="205.60" y1="354.10" x2="209.80" y2="354.10" stroke="#555" stroke-width="0.6"/>
<line x1="207.20" y1="350.36" x2="209.80" y2="350.36" stroke="#555" stroke-width="0.6"/>
<line x1="207.20" y1="346.62" x2="209.80" y2="346.62" stroke="#555" stroke-width="0.6"/>
<line x1="207.20" y1="342.88" x2="209.80" y2="342.88" stroke="#555" stroke-width="0.6"/>
<line x1="207.20" y1="339.14" x2="209.80" y2="339.14" stroke="#555" stroke-width="0.6"/>
<line x1="205.60" y1="335.40" x2="209.80" y2="335.40" stroke="#555" stroke-width="0.6"/>
<line x1="207.20" y1="331.66" x2="209.80" y2="331.66" stroke="#555" stroke-width="0.6"/>
<line x1="207.20" y1="327.92" x2="209.80" y2="327.92" stroke="#555" stroke-width="0.6"/>
<line x1="207.20" y1="324.18" x2="209.80" y2="324.18" stroke="#555" stroke-width="0.6"/>
<line x1="207.20" y1="320.44" x2="209.80" y2="320.44" stroke="#555" stroke-width="0.6"/>
<line x1="205.60" y1="316.70" x2="209.80" y2="316.70" stroke="#555" stroke-width="0.6"/>
<line x1="207.20" y1="312.96" x2="209.80" y2="312.96" stroke="#555" stroke-width="0.6"/>
<line x1="207.20" y1="309.22" x2="209.80" y2="309.22" stroke="#555" stroke-width="0.6"/>
<line x1="207.20" y1="305.48" x2="209.80" y2="305.48" stroke="#555" stroke-width="0.6"/>
<line x1="207.20" y1="301.74" x2="209.80" y2="301.74" stroke="#555" stroke-width="0.6"/>
<line x1="205.60" y1="298.00" x2="209.80" y2="298.00" stroke="#555" stroke-width="0.6"/>
<text transform="translate(203.60,391.50) rotate(-90)" font-size="5" text-anchor="middle" fill="#444">0</text>
<text transform="translate(203.60,372.80) rotate(-90)" font-size="5" text-anchor="middle" fill="#444">200</text>
<text transform="translate(203.60,354.10) rotate(-90)" font-size="5" text-anchor="middle" fill="#444">400</text>
<text transform="translate(203.60,335.40) rotate(-90)" font-size="5" text-anchor="middle" fill="#444">600</text>
<text transform="translate(203.60,316.70) rotate(-90)" font-size="5" text-anchor="middle" fill="#444">800</text>
<line x1="209.80" y1="391.50" x2="209.80" y2="394.70" stroke="#555" stroke-width="0.6"/>
<line x1="214.58" y1="391.50" x2="214.58" y2="393.50" stroke="#555" stroke-width="0.6"/>
<line x1="219.36" y1="391.50" x2="219.36" y2="393.50" stroke="#555" stroke-width="0.6"/>
<line x1="224.14" y1="391.50" x2="224.14" y2="393.50" stroke="#555" stroke-width="0.6"/>
<line x1="228.92" y1="391.50" x2="228.92" y2="393.50" stroke="#555" stroke-width="0.6"/>
<line x1="233.70" y1="391.50" x2="233.70" y2="394.70" stroke="#555" stroke-width="0.6"/>
<line x1="238.48" y1="391.50" x2="238.48" y2="393.50" stroke="#555" stroke-width="0.6"/>
<line x1="243.26" y1="391.50" x2="243.26" y2="393.50" stroke="#555" stroke-width="0.6"/>
<line x1="248.04" y1="391.50" x2="248.04" y2="393.50" stroke="#555" stroke-width="0.6"/>
<line x1="252.82" y1="391.50" x2="252.82" y2="393.50" stroke="#555" stroke-width="0.6"/>
<line x1="257.60" y1="391.50" x2="257.60" y2="394.70" stroke="#555" stroke-width="0.6"/>
<line x1="262.38" y1="391.50" x2="262.38" y2="393.50" stroke="#555" stroke-width="0.6"/>
<line x1="267.16" y1="391.50" x2="267.16" y2="393.50" stroke="#555" stroke-width="0.6"/>
<line x1="271.94" y1="391.50" x2="271.94" y2="393.50" stroke="#555" stroke-width="0.6"/>
<line x1="276.72" y1="391.50" x2="276.72" y2="393.50" stroke="#555" stroke-width="0.6"/>
<line x1="281.50" y1="391.50" x2="281.50" y2="394.70" stroke="#555" stroke-width="0.6"/>
<line x1="286.28" y1="391.50" x2="286.28" y2="393.50" stroke="#555" stroke-width="0.6"/>
<line x1="291.06" y1="391.50" x2="291.06" y2="393.50" stroke="#555" stroke-width="0.6"/>
<line x1="295.84" y1="391.50" x2="295.84" y2="393.50" stroke="#555" stroke-width="0.6"/>
<line x1="300.62" y1="391.50" x2="300.62" y2="393.50" stroke="#555" stroke-width="0.6"/>
<line x1="305.40" y1="391.50" x2="305.40" y2="394.70" stroke="#555" stroke-width="0.6"/>
<line x1="310.18" y1="391.50" x2="310.18" y2="393.50" stroke="#555" stroke-width="0.6"/>
<line x1="314.96" y1="391.50" x2="314.96" y2="393.50" stroke="#555" stroke-width="0.6"/>
<line x1="319.74" y1="391.50" x2="319.74" y2="393.50" stroke="#555" stroke-width="0.6"/>
<line x1="324.52" y1="391.50" x2="324.52" y2="393.50" stroke="#555" stroke-width="0.6"/>
<line x1="329.30" y1="391.50" x2="329.30" y2="394.70" stroke="#555" stroke-width="0.6"/>
<text x="209.80" y="400.50" font-size="4.6" text-anchor="middle" fill="#555">0</text>
<text x="233.70" y="400.50" font-size="4.6" text-anchor="middle" fill="#555">50</text>
<text x="257.60" y="400.50" font-size="4.6" text-anchor="middle" fill="#555">100</text>
<text x="281.50" y="400.50" font-size="4.6" text-anchor="middle" fill="#555">150</text>
<text x="305.40" y="400.50" font-size="4.6" text-anchor="middle" fill="#555">200</text>
<text x="329.30" y="400.50" font-size="4.6" text-anchor="middle" fill="#555">250</text>
<text x="261.40" y="305.50" font-size="10.2" font-weight="bold" fill="#111">%G<tspan dy="2.8" font-size="7.2">1</tspan><tspan dy="-2.8">= 92.57</tspan></text>
<text x="261.40" y="316.70" font-size="10.2" font-weight="bold" fill="#111">%S = 3.70</text>
<text x="261.40" y="327.90" font-size="10.2" font-weight="bold" fill="#111">%G<tspan dy="2.8" font-size="7.2">2</tspan><tspan dy="-2.8">&#8211;M = 3.73</tspan></text>
<polygon points="396.85,391.50 396.85,390.93 397.10,390.70 397.35,390.39 397.60,389.99 397.85,389.46 398.10,388.77 398.35,387.90 398.60,386.80 398.85,385.44 399.10,383.78 399.35,381.78 399.60,379.41 399.85,376.63 400.10,373.43 400.35,369.79 400.60,365.74 400.85,361.28 401.10,356.48 401.35,351.38 401.60,346.08 401.85,340.68 402.10,335.32 402.35,330.11 402.60,325.21 402.85,320.76 403.10,316.90 403.35,313.75 403.60,311.41 403.85,309.98 404.10,309.50 404.35,309.98 404.60,311.41 404.85,313.75 405.10,316.90 405.35,320.76 405.60,325.21 405.85,330.11 406.10,335.32 406.35,340.68 406.60,346.08 406.85,351.38 407.10,356.48 407.35,361.28 407.60,365.74 407.85,369.79 408.10,373.43 408.35,376.63 408.60,379.41 408.85,381.78 409.10,383.78 409.35,385.44 409.60,386.80 409.85,387.90 410.10,388.77 410.35,389.46 410.60,389.99 410.85,390.39 411.10,390.70 411.35,390.93 411.35,391.50" fill="#e61e26" stroke="#b0141c" stroke-width="0.5"/>
<polygon points="433.50,391.50 433.50,391.46 433.75,391.45 434.00,391.44 434.25,391.42 434.50,391.41 434.75,391.39 435.00,391.36 435.25,391.33 435.50,391.30 435.75,391.26 436.00,391.21 436.25,391.16 436.50,391.10 436.75,391.03 437.00,390.95 437.25,390.86 437.50,390.76 437.75,390.64 438.00,390.52 438.25,390.38 438.50,390.23 438.75,390.07 439.00,389.90 439.25,389.71 439.50,389.52 439.75,389.31 440.00,389.09 440.25,388.87 440.50,388.64 440.75,388.40 441.00,388.16 441.25,387.93 441.50,387.69 441.75,387.46 442.00,387.24 442.25,387.03 442.50,386.83 442.75,386.65 443.00,386.48 443.25,386.34 443.50,386.22 443.75,386.12 444.00,386.06 444.25,386.01 444.50,386.00 444.75,386.01 445.00,386.06 445.25,386.12 445.50,386.22 445.75,386.34 446.00,386.48 446.25,386.65 446.50,386.83 446.75,387.03 447.00,387.24 447.25,387.46 447.50,387.69 447.75,387.93 448.00,388.16 448.25,388.40 448.50,388.64 448.75,388.87 449.00,389.09 449.25,389.31 449.50,389.52 449.75,389.71 450.00,389.90 450.25,390.07 450.50,390.23 450.75,390.38 451.00,390.52 451.25,390.64 451.50,390.76 451.75,390.86 452.00,390.95 452.25,391.03 452.50,391.10 452.75,391.16 453.00,391.21 453.25,391.26 453.50,391.30 453.75,391.33 454.00,391.36 454.25,391.39 454.50,391.41 454.75,391.42 455.00,391.44 455.25,391.45 455.50,391.46 455.50,391.50" fill="#3550b8" stroke="#243a90" stroke-width="0.5"/>
<polyline points="390.00,391.20 390.70,391.20 391.40,391.20 392.10,391.20 392.80,391.20 393.50,391.20 394.20,391.20 394.90,391.20 395.60,391.20 396.30,391.20 397.00,390.80 397.70,389.79 398.40,387.70 399.10,383.78 399.80,377.22 400.50,367.41 401.20,354.47 401.90,339.60 402.60,325.21 403.30,314.31 404.00,309.58 404.70,312.24 405.40,321.61 406.10,335.26 406.80,350.25 407.50,363.88 408.20,374.57 408.90,381.95 409.60,386.45 410.30,388.89 411.00,390.06 411.70,390.55 412.40,390.71 413.10,390.75 413.80,390.75 414.50,390.73 415.20,390.72 415.90,390.72 416.60,390.71 417.30,390.71 418.00,390.70 418.70,390.70 419.40,390.70 420.10,390.70 420.80,390.70 421.50,390.70 422.20,390.70 422.90,390.70 423.60,390.70 424.30,390.70 425.00,390.70 425.70,390.70 426.40,390.70 427.10,390.70 427.80,390.70 428.50,390.70 429.20,390.70 429.90,390.70 430.60,390.69 431.30,390.69 432.00,390.67 432.70,390.65 433.40,390.62 434.10,390.56 434.80,390.47 435.50,390.34 436.20,390.16 436.90,389.91 437.60,389.58 438.30,389.18 439.00,388.69 439.70,388.13 440.40,387.52 441.10,386.88 441.80,386.26 442.50,385.71 443.20,385.28 443.90,385.03 444.60,385.00 445.30,385.14 446.00,385.49 446.70,386.00 447.40,386.64 448.10,387.35 448.80,388.07 449.50,388.76 450.20,389.39 450.90,389.93 451.60,390.37 452.30,390.71 453.00,390.97 453.70,391.15 454.40,391.20 455.10,391.20 455.80,391.20 456.50,391.20 457.20,391.20 457.90,391.20 458.60,391.20 459.30,391.20 460.00,391.20 460.70,391.20 461.40,391.20 462.10,391.20 462.80,391.20 463.50,391.20 464.20,391.20 464.90,391.20 465.60,391.20 466.30,391.20 467.00,391.20 467.70,391.20 468.40,391.20 469.10,391.20 469.80,391.20 470.50,391.20 471.20,391.20 471.90,391.20 472.60,391.20 473.30,391.20 474.00,391.20 474.70,391.20 475.40,391.20 476.10,391.20 476.80,391.20 477.50,391.20 478.20,391.20" fill="none" stroke="#444" stroke-width="0.7"/>
<line x1="360.40" y1="299.20" x2="360.40" y2="392.00" stroke="#555" stroke-width="0.9"/>
<line x1="359.90" y1="391.50" x2="478.70" y2="391.50" stroke="#555" stroke-width="0.9"/>
<line x1="356.20" y1="391.50" x2="360.40" y2="391.50" stroke="#555" stroke-width="0.6"/>
<line x1="357.80" y1="388.88" x2="360.40" y2="388.88" stroke="#555" stroke-width="0.6"/>
<line x1="357.80" y1="386.26" x2="360.40" y2="386.26" stroke="#555" stroke-width="0.6"/>
<line x1="357.80" y1="383.64" x2="360.40" y2="383.64" stroke="#555" stroke-width="0.6"/>
<line x1="357.80" y1="381.02" x2="360.40" y2="381.02" stroke="#555" stroke-width="0.6"/>
<line x1="356.20" y1="378.40" x2="360.40" y2="378.40" stroke="#555" stroke-width="0.6"/>
<line x1="357.80" y1="375.78" x2="360.40" y2="375.78" stroke="#555" stroke-width="0.6"/>
<line x1="357.80" y1="373.16" x2="360.40" y2="373.16" stroke="#555" stroke-width="0.6"/>
<line x1="357.80" y1="370.54" x2="360.40" y2="370.54" stroke="#555" stroke-width="0.6"/>
<line x1="357.80" y1="367.92" x2="360.40" y2="367.92" stroke="#555" stroke-width="0.6"/>
<line x1="356.20" y1="365.30" x2="360.40" y2="365.30" stroke="#555" stroke-width="0.6"/>
<line x1="357.80" y1="362.68" x2="360.40" y2="362.68" stroke="#555" stroke-width="0.6"/>
<line x1="357.80" y1="360.06" x2="360.40" y2="360.06" stroke="#555" stroke-width="0.6"/>
<line x1="357.80" y1="357.44" x2="360.40" y2="357.44" stroke="#555" stroke-width="0.6"/>
<line x1="357.80" y1="354.82" x2="360.40" y2="354.82" stroke="#555" stroke-width="0.6"/>
<line x1="356.20" y1="352.20" x2="360.40" y2="352.20" stroke="#555" stroke-width="0.6"/>
<line x1="357.80" y1="349.58" x2="360.40" y2="349.58" stroke="#555" stroke-width="0.6"/>
<line x1="357.80" y1="346.96" x2="360.40" y2="346.96" stroke="#555" stroke-width="0.6"/>
<line x1="357.80" y1="344.34" x2="360.40" y2="344.34" stroke="#555" stroke-width="0.6"/>
<line x1="357.80" y1="341.72" x2="360.40" y2="341.72" stroke="#555" stroke-width="0.6"/>
<line x1="356.20" y1="339.10" x2="360.40" y2="339.10" stroke="#555" stroke-width="0.6"/>
<line x1="357.80" y1="336.48" x2="360.40" y2="336.48" stroke="#555" stroke-width="0.6"/>
<line x1="357.80" y1="333.86" x2="360.40" y2="333.86" stroke="#555" stroke-width="0.6"/>
<line x1="357.80" y1="331.24" x2="360.40" y2="331.24" stroke="#555" stroke-width="0.6"/>
<line x1="357.80" y1="328.62" x2="360.40" y2="328.62" stroke="#555" stroke-width="0.6"/>
<line x1="356.20" y1="326.00" x2="360.40" y2="326.00" stroke="#555" stroke-width="0.6"/>
<line x1="357.80" y1="323.38" x2="360.40" y2="323.38" stroke="#555" stroke-width="0.6"/>
<line x1="357.80" y1="320.76" x2="360.40" y2="320.76" stroke="#555" stroke-width="0.6"/>
<line x1="357.80" y1="318.14" x2="360.40" y2="318.14" stroke="#555" stroke-width="0.6"/>
<line x1="357.80" y1="315.52" x2="360.40" y2="315.52" stroke="#555" stroke-width="0.6"/>
<line x1="356.20" y1="312.90" x2="360.40" y2="312.90" stroke="#555" stroke-width="0.6"/>
<line x1="357.80" y1="310.28" x2="360.40" y2="310.28" stroke="#555" stroke-width="0.6"/>
<line x1="357.80" y1="307.66" x2="360.40" y2="307.66" stroke="#555" stroke-width="0.6"/>
<line x1="357.80" y1="305.04" x2="360.40" y2="305.04" stroke="#555" stroke-width="0.6"/>
<line x1="357.80" y1="302.42" x2="360.40" y2="302.42" stroke="#555" stroke-width="0.6"/>
<line x1="356.20" y1="299.80" x2="360.40" y2="299.80" stroke="#555" stroke-width="0.6"/>
<text transform="translate(354.20,391.50) rotate(-90)" font-size="5" text-anchor="middle" fill="#444">0</text>
<text transform="translate(354.20,378.40) rotate(-90)" font-size="5" text-anchor="middle" fill="#444">100</text>
<text transform="translate(354.20,365.30) rotate(-90)" font-size="5" text-anchor="middle" fill="#444">200</text>
<text transform="translate(354.20,352.20) rotate(-90)" font-size="5" text-anchor="middle" fill="#444">300</text>
<text transform="translate(354.20,339.10) rotate(-90)" font-size="5" text-anchor="middle" fill="#444">400</text>
<text transform="translate(354.20,326.00) rotate(-90)" font-size="5" text-anchor="middle" fill="#444">500</text>
<text transform="translate(354.20,312.90) rotate(-90)" font-size="5" text-anchor="middle" fill="#444">600</text>
<text transform="translate(348.40,345.05) rotate(-90)" font-size="4.6" text-anchor="middle" fill="#555">Number</text>
<line x1="360.40" y1="391.50" x2="360.40" y2="394.70" stroke="#555" stroke-width="0.6"/>
<line x1="365.07" y1="391.50" x2="365.07" y2="393.50" stroke="#555" stroke-width="0.6"/>
<line x1="369.74" y1="391.50" x2="369.74" y2="393.50" stroke="#555" stroke-width="0.6"/>
<line x1="374.42" y1="391.50" x2="374.42" y2="393.50" stroke="#555" stroke-width="0.6"/>
<line x1="379.09" y1="391.50" x2="379.09" y2="393.50" stroke="#555" stroke-width="0.6"/>
<line x1="383.76" y1="391.50" x2="383.76" y2="394.70" stroke="#555" stroke-width="0.6"/>
<line x1="388.43" y1="391.50" x2="388.43" y2="393.50" stroke="#555" stroke-width="0.6"/>
<line x1="393.10" y1="391.50" x2="393.10" y2="393.50" stroke="#555" stroke-width="0.6"/>
<line x1="397.78" y1="391.50" x2="397.78" y2="393.50" stroke="#555" stroke-width="0.6"/>
<line x1="402.45" y1="391.50" x2="402.45" y2="393.50" stroke="#555" stroke-width="0.6"/>
<line x1="407.12" y1="391.50" x2="407.12" y2="394.70" stroke="#555" stroke-width="0.6"/>
<line x1="411.79" y1="391.50" x2="411.79" y2="393.50" stroke="#555" stroke-width="0.6"/>
<line x1="416.46" y1="391.50" x2="416.46" y2="393.50" stroke="#555" stroke-width="0.6"/>
<line x1="421.14" y1="391.50" x2="421.14" y2="393.50" stroke="#555" stroke-width="0.6"/>
<line x1="425.81" y1="391.50" x2="425.81" y2="393.50" stroke="#555" stroke-width="0.6"/>
<line x1="430.48" y1="391.50" x2="430.48" y2="394.70" stroke="#555" stroke-width="0.6"/>
<line x1="435.15" y1="391.50" x2="435.15" y2="393.50" stroke="#555" stroke-width="0.6"/>
<line x1="439.82" y1="391.50" x2="439.82" y2="393.50" stroke="#555" stroke-width="0.6"/>
<line x1="444.50" y1="391.50" x2="444.50" y2="393.50" stroke="#555" stroke-width="0.6"/>
<line x1="449.17" y1="391.50" x2="449.17" y2="393.50" stroke="#555" stroke-width="0.6"/>
<line x1="453.84" y1="391.50" x2="453.84" y2="394.70" stroke="#555" stroke-width="0.6"/>
<line x1="458.51" y1="391.50" x2="458.51" y2="393.50" stroke="#555" stroke-width="0.6"/>
<line x1="463.18" y1="391.50" x2="463.18" y2="393.50" stroke="#555" stroke-width="0.6"/>
<line x1="467.86" y1="391.50" x2="467.86" y2="393.50" stroke="#555" stroke-width="0.6"/>
<line x1="472.53" y1="391.50" x2="472.53" y2="393.50" stroke="#555" stroke-width="0.6"/>
<line x1="477.20" y1="391.50" x2="477.20" y2="394.70" stroke="#555" stroke-width="0.6"/>
<text x="360.40" y="400.50" font-size="4.6" text-anchor="middle" fill="#555">0</text>
<text x="383.76" y="400.50" font-size="4.6" text-anchor="middle" fill="#555">50</text>
<text x="407.12" y="400.50" font-size="4.6" text-anchor="middle" fill="#555">100</text>
<text x="430.48" y="400.50" font-size="4.6" text-anchor="middle" fill="#555">150</text>
<text x="453.84" y="400.50" font-size="4.6" text-anchor="middle" fill="#555">200</text>
<text x="477.20" y="400.50" font-size="4.6" text-anchor="middle" fill="#555">250</text>
<text x="419.80" y="405.00" font-size="4.4" text-anchor="middle" fill="#555">PI</text>
<text x="411.40" y="305.50" font-size="10.2" font-weight="bold" fill="#111">%G<tspan dy="2.8" font-size="7.2">1</tspan><tspan dy="-2.8">= 82.81</tspan></text>
<text x="411.40" y="316.70" font-size="10.2" font-weight="bold" fill="#111">%S = 8.31</text>
<text x="411.40" y="327.90" font-size="10.2" font-weight="bold" fill="#111">%G<tspan dy="2.8" font-size="7.2">2</tspan><tspan dy="-2.8">&#8211;M = 8.88</tspan></text>
<rect x="111.50" y="497.00" width="26.50" height="3.00" fill="#d0cde8"/>
<polygon points="100.65,500.00 100.65,499.42 100.90,499.16 101.15,498.78 101.40,498.27 101.65,497.58 101.90,496.66 102.15,495.47 102.40,493.95 102.65,492.05 102.90,489.71 103.15,486.90 103.40,483.56 103.65,479.70 103.90,475.33 104.15,470.47 104.40,465.20 104.65,459.64 104.90,453.90 105.15,448.17 105.40,442.63 105.65,437.48 105.90,432.93 106.15,429.16 106.40,426.34 106.65,424.59 106.90,424.00 107.15,424.59 107.40,426.34 107.65,429.16 107.90,432.93 108.15,437.48 108.40,442.63 108.65,448.17 108.90,453.90 109.15,459.64 109.40,465.20 109.65,470.47 109.90,475.33 110.15,479.70 110.40,483.56 110.65,486.90 110.90,489.71 111.15,492.05 111.40,493.95 111.65,495.47 111.90,496.66 112.15,497.58 112.40,498.27 112.65,498.78 112.90,499.16 113.15,499.42 113.15,500.00" fill="#e61e26" stroke="#b0141c" stroke-width="0.5"/>
<polygon points="134.20,500.00 134.20,499.94 134.45,499.91 134.70,499.89 134.95,499.85 135.20,499.81 135.45,499.75 135.70,499.68 135.95,499.60 136.20,499.49 136.45,499.37 136.70,499.22 136.95,499.05 137.20,498.84 137.45,498.61 137.70,498.34 137.95,498.04 138.20,497.71 138.45,497.33 138.70,496.93 138.95,496.49 139.20,496.03 139.45,495.54 139.70,495.04 139.95,494.52 140.20,494.01 140.45,493.50 140.70,493.01 140.95,492.54 141.20,492.12 141.45,491.73 141.70,491.41 141.95,491.15 142.20,490.96 142.45,490.84 142.70,490.80 142.95,490.84 143.20,490.96 143.45,491.15 143.70,491.41 143.95,491.73 144.20,492.12 144.45,492.54 144.70,493.01 144.95,493.50 145.20,494.01 145.45,494.52 145.70,495.04 145.95,495.54 146.20,496.03 146.45,496.49 146.70,496.93 146.95,497.33 147.20,497.71 147.45,498.04 147.70,498.34 147.95,498.61 148.20,498.84 148.45,499.05 148.70,499.22 148.95,499.37 149.20,499.49 149.45,499.60 149.70,499.68 149.95,499.75 150.20,499.81 150.45,499.85 150.70,499.89 150.95,499.91 151.20,499.94 151.20,500.00" fill="#3550b8" stroke="#243a90" stroke-width="0.5"/>
<polyline points="72.00,498.36 72.70,498.27 73.40,498.19 74.10,498.60 74.80,498.11 75.50,497.14 76.20,496.31 76.90,495.12 77.60,494.96 78.30,495.50 79.00,496.79 79.70,497.09 80.40,497.82 81.10,497.80 81.80,498.19 82.50,497.85 83.20,497.78 83.90,497.80 84.60,497.87 85.30,498.02 86.00,497.71 86.70,498.06 87.40,497.53 88.10,497.64 88.80,497.52 89.50,497.52 90.20,498.00 90.90,497.97 91.60,497.58 92.30,497.58 93.00,497.75 93.70,497.99 94.40,498.05 95.10,498.02 95.80,497.92 96.50,497.63 97.20,497.86 97.90,497.78 98.60,498.10 99.30,498.20 100.00,497.96 100.70,497.80 101.40,497.43 102.10,494.72 102.80,490.54 103.50,480.80 104.20,466.21 104.90,447.09 105.60,428.71 106.30,413.75 107.00,409.93 107.70,417.31 108.40,432.77 109.10,452.57 109.80,470.29 110.50,481.60 111.20,489.68 111.90,493.18 112.60,493.84 113.30,494.65 114.00,494.86 114.70,494.44 115.40,494.29 116.10,494.13 116.80,494.04 117.50,494.04 118.20,493.45 118.90,494.09 119.60,494.10 120.30,494.19 121.00,494.18 121.70,494.24 122.40,494.51 123.10,493.52 123.80,493.98 124.50,494.32 125.20,493.42 125.90,493.97 126.60,493.65 127.30,493.55 128.00,494.15 128.70,494.22 129.40,493.80 130.10,494.12 130.80,494.31 131.50,493.65 132.20,494.09 132.90,494.12 133.60,494.50 134.30,494.66 135.00,494.56 135.70,494.42 136.40,494.54 137.10,494.44 137.80,493.92 138.50,492.91 139.20,491.30 139.90,489.19 140.60,487.36 141.30,484.55 142.00,483.53 142.70,484.04 143.40,483.57 144.10,486.25 144.80,488.32 145.50,490.21 146.20,492.61 146.90,494.81 147.60,496.07 148.30,497.31 149.00,498.19 149.70,498.33 150.40,498.27 151.10,498.79 151.80,498.66 152.50,498.40 153.20,498.41 153.90,498.52 154.60,498.57 155.30,498.30 156.00,498.14 156.70,498.29 157.40,498.70 158.10,498.24 158.80,498.47 159.50,498.28 160.20,498.29 160.90,498.26 161.60,498.43 162.30,498.26 163.00,498.16 163.70,498.22 164.40,498.26 165.10,498.49 165.80,498.18 166.50,498.16 167.20,498.46 167.90,498.43 168.60,498.65 169.30,498.18 170.00,498.43 170.70,498.43 171.40,498.16 172.10,498.84 172.80,498.30 173.50,498.21 174.20,498.48 174.90,498.26 175.60,498.59 176.30,498.39 177.00,498.23 177.70,498.18 178.40,498.66 179.10,498.34 179.80,498.71 180.50,498.48 181.20,498.81 181.90,498.36 182.60,498.32 183.30,498.33 184.00,498.73 184.70,498.59 185.40,498.39 186.10,498.21 186.80,498.63 187.50,498.84 188.20,498.57 188.90,498.14 189.60,498.16 190.30,498.21 191.00,498.26 191.70,498.17 192.40,498.18 193.10,498.61" fill="none" stroke="#9a9a9a" stroke-width="0.9"/>
<polyline points="72.00,499.70 72.70,499.70 73.40,499.70 74.10,499.64 74.80,499.13 75.50,498.31 76.20,497.34 76.90,496.42 77.60,496.33 78.30,496.79 79.00,497.73 79.70,498.62 80.40,499.02 81.10,499.18 81.80,499.19 82.50,499.15 83.20,499.10 83.90,499.07 84.60,499.04 85.30,499.03 86.00,499.02 86.70,499.01 87.40,499.01 88.10,499.00 88.80,499.00 89.50,499.00 90.20,499.00 90.90,499.00 91.60,499.00 92.30,499.01 93.00,499.01 93.70,499.01 94.40,499.02 95.10,499.04 95.80,499.06 96.50,499.09 97.20,499.13 97.90,499.20 98.60,499.28 99.30,499.36 100.00,499.38 100.70,499.18 101.40,498.43 102.10,496.25 102.80,491.52 103.50,481.72 104.20,467.09 104.90,448.38 105.60,429.87 106.30,414.89 107.00,411.04 107.70,418.16 108.40,433.83 109.10,453.92 109.80,471.23 110.50,482.81 111.20,490.80 111.90,494.21 112.60,495.40 113.30,495.66 114.00,495.94 114.70,495.64 115.40,495.47 116.10,495.36 116.80,495.46 117.50,495.21 118.20,494.98 118.90,495.29 119.60,495.19 120.30,495.43 121.00,495.34 121.70,495.11 122.40,495.43 123.10,494.98 123.80,494.97 124.50,495.43 125.20,494.95 125.90,495.27 126.60,495.05 127.30,495.06 128.00,495.32 128.70,495.11 129.40,495.13 130.10,495.05 130.80,495.37 131.50,495.12 132.20,495.03 132.90,495.25 133.60,495.39 134.30,495.70 135.00,495.59 135.70,495.73 136.40,495.52 137.10,495.33 137.80,494.86 138.50,494.16 139.20,492.32 139.90,490.40 140.60,488.84 141.30,486.08 142.00,485.04 142.70,485.45 143.40,485.02 144.10,487.45 144.80,489.38 145.50,491.38 146.20,493.87 146.90,495.90 147.60,497.42 148.30,498.53 149.00,499.20 149.70,499.60 150.40,499.70 151.10,499.70 151.80,499.70 152.50,499.70 153.20,499.70 153.90,499.70 154.60,499.70 155.30,499.70 156.00,499.70 156.70,499.70 157.40,499.70 158.10,499.70 158.80,499.70 159.50,499.70 160.20,499.70 160.90,499.70 161.60,499.70 162.30,499.70 163.00,499.70 163.70,499.70 164.40,499.70 165.10,499.70 165.80,499.70 166.50,499.70 167.20,499.70 167.90,499.70 168.60,499.70 169.30,499.70 170.00,499.70 170.70,499.70 171.40,499.70 172.10,499.70 172.80,499.70 173.50,499.70 174.20,499.70 174.90,499.70 175.60,499.70 176.30,499.70 177.00,499.70 177.70,499.70 178.40,499.70 179.10,499.70 179.80,499.70 180.50,499.70 181.20,499.70 181.90,499.70 182.60,499.70 183.30,499.70 184.00,499.70 184.70,499.70 185.40,499.70 186.10,499.70 186.80,499.70 187.50,499.70 188.20,499.70 188.90,499.70 189.60,499.70 190.30,499.70 191.00,499.70 191.70,499.70 192.40,499.70 193.10,499.70" fill="none" stroke="#444" stroke-width="0.7"/>
<line x1="70.20" y1="404.60" x2="70.20" y2="500.50" stroke="#555" stroke-width="0.9"/>
<line x1="69.70" y1="500.00" x2="193.20" y2="500.00" stroke="#555" stroke-width="0.9"/>
<line x1="66.00" y1="500.00" x2="70.20" y2="500.00" stroke="#555" stroke-width="0.6"/>
<line x1="67.60" y1="496.80" x2="70.20" y2="496.80" stroke="#555" stroke-width="0.6"/>
<line x1="67.60" y1="493.60" x2="70.20" y2="493.60" stroke="#555" stroke-width="0.6"/>
<line x1="67.60" y1="490.40" x2="70.20" y2="490.40" stroke="#555" stroke-width="0.6"/>
<line x1="67.60" y1="487.20" x2="70.20" y2="487.20" stroke="#555" stroke-width="0.6"/>
<line x1="66.00" y1="484.00" x2="70.20" y2="484.00" stroke="#555" stroke-width="0.6"/>
<line x1="67.60" y1="480.80" x2="70.20" y2="480.80" stroke="#555" stroke-width="0.6"/>
<line x1="67.60" y1="477.60" x2="70.20" y2="477.60" stroke="#555" stroke-width="0.6"/>
<line x1="67.60" y1="474.40" x2="70.20" y2="474.40" stroke="#555" stroke-width="0.6"/>
<line x1="67.60" y1="471.20" x2="70.20" y2="471.20" stroke="#555" stroke-width="0.6"/>
<line x1="66.00" y1="468.00" x2="70.20" y2="468.00" stroke="#555" stroke-width="0.6"/>
<line x1="67.60" y1="464.80" x2="70.20" y2="464.80" stroke="#555" stroke-width="0.6"/>
<line x1="67.60" y1="461.60" x2="70.20" y2="461.60" stroke="#555" stroke-width="0.6"/>
<line x1="67.60" y1="458.40" x2="70.20" y2="458.40" stroke="#555" stroke-width="0.6"/>
<line x1="67.60" y1="455.20" x2="70.20" y2="455.20" stroke="#555" stroke-width="0.6"/>
<line x1="66.00" y1="452.00" x2="70.20" y2="452.00" stroke="#555" stroke-width="0.6"/>
<line x1="67.60" y1="448.80" x2="70.20" y2="448.80" stroke="#555" stroke-width="0.6"/>
<line x1="67.60" y1="445.60" x2="70.20" y2="445.60" stroke="#555" stroke-width="0.6"/>
<line x1="67.60" y1="442.40" x2="70.20" y2="442.40" stroke="#555" stroke-width="0.6"/>
<line x1="67.60" y1="439.20" x2="70.20" y2="439.20" stroke="#555" stroke-width="0.6"/>
<line x1="66.00" y1="436.00" x2="70.20" y2="436.00" stroke="#555" stroke-width="0.6"/>
<line x1="67.60" y1="432.80" x2="70.20" y2="432.80" stroke="#555" stroke-width="0.6"/>
<line x1="67.60" y1="429.60" x2="70.20" y2="429.60" stroke="#555" stroke-width="0.6"/>
<line x1="67.60" y1="426.40" x2="70.20" y2="426.40" stroke="#555" stroke-width="0.6"/>
<line x1="67.60" y1="423.20" x2="70.20" y2="423.20" stroke="#555" stroke-width="0.6"/>
<line x1="66.00" y1="420.00" x2="70.20" y2="420.00" stroke="#555" stroke-width="0.6"/>
<line x1="67.60" y1="416.80" x2="70.20" y2="416.80" stroke="#555" stroke-width="0.6"/>
<line x1="67.60" y1="413.60" x2="70.20" y2="413.60" stroke="#555" stroke-width="0.6"/>
<line x1="67.60" y1="410.40" x2="70.20" y2="410.40" stroke="#555" stroke-width="0.6"/>
<line x1="67.60" y1="407.20" x2="70.20" y2="407.20" stroke="#555" stroke-width="0.6"/>
<text transform="translate(64.00,500.00) rotate(-90)" font-size="5" text-anchor="middle" fill="#444">0</text>
<text transform="translate(64.00,484.00) rotate(-90)" font-size="5" text-anchor="middle" fill="#444">10</text>
<text transform="translate(64.00,468.00) rotate(-90)" font-size="5" text-anchor="middle" fill="#444">20</text>
<text transform="translate(64.00,452.00) rotate(-90)" font-size="5" text-anchor="middle" fill="#444">30</text>
<text transform="translate(64.00,436.00) rotate(-90)" font-size="5" text-anchor="middle" fill="#444">40</text>
<text transform="translate(64.00,420.00) rotate(-90)" font-size="5" text-anchor="middle" fill="#444">50</text>
<text transform="translate(58.20,452.00) rotate(-90)" font-size="4.6" text-anchor="middle" fill="#555">Number</text>
<line x1="70.20" y1="500.00" x2="70.20" y2="503.20" stroke="#555" stroke-width="0.6"/>
<line x1="75.06" y1="500.00" x2="75.06" y2="502.00" stroke="#555" stroke-width="0.6"/>
<line x1="79.92" y1="500.00" x2="79.92" y2="502.00" stroke="#555" stroke-width="0.6"/>
<line x1="84.78" y1="500.00" x2="84.78" y2="502.00" stroke="#555" stroke-width="0.6"/>
<line x1="89.64" y1="500.00" x2="89.64" y2="502.00" stroke="#555" stroke-width="0.6"/>
<line x1="94.50" y1="500.00" x2="94.50" y2="503.20" stroke="#555" stroke-width="0.6"/>
<line x1="99.36" y1="500.00" x2="99.36" y2="502.00" stroke="#555" stroke-width="0.6"/>
<line x1="104.22" y1="500.00" x2="104.22" y2="502.00" stroke="#555" stroke-width="0.6"/>
<line x1="109.08" y1="500.00" x2="109.08" y2="502.00" stroke="#555" stroke-width="0.6"/>
<line x1="113.94" y1="500.00" x2="113.94" y2="502.00" stroke="#555" stroke-width="0.6"/>
<line x1="118.80" y1="500.00" x2="118.80" y2="503.20" stroke="#555" stroke-width="0.6"/>
<line x1="123.66" y1="500.00" x2="123.66" y2="502.00" stroke="#555" stroke-width="0.6"/>
<line x1="128.52" y1="500.00" x2="128.52" y2="502.00" stroke="#555" stroke-width="0.6"/>
<line x1="133.38" y1="500.00" x2="133.38" y2="502.00" stroke="#555" stroke-width="0.6"/>
<line x1="138.24" y1="500.00" x2="138.24" y2="502.00" stroke="#555" stroke-width="0.6"/>
<line x1="143.10" y1="500.00" x2="143.10" y2="503.20" stroke="#555" stroke-width="0.6"/>
<line x1="147.96" y1="500.00" x2="147.96" y2="502.00" stroke="#555" stroke-width="0.6"/>
<line x1="152.82" y1="500.00" x2="152.82" y2="502.00" stroke="#555" stroke-width="0.6"/>
<line x1="157.68" y1="500.00" x2="157.68" y2="502.00" stroke="#555" stroke-width="0.6"/>
<line x1="162.54" y1="500.00" x2="162.54" y2="502.00" stroke="#555" stroke-width="0.6"/>
<line x1="167.40" y1="500.00" x2="167.40" y2="503.20" stroke="#555" stroke-width="0.6"/>
<line x1="172.26" y1="500.00" x2="172.26" y2="502.00" stroke="#555" stroke-width="0.6"/>
<line x1="177.12" y1="500.00" x2="177.12" y2="502.00" stroke="#555" stroke-width="0.6"/>
<line x1="181.98" y1="500.00" x2="181.98" y2="502.00" stroke="#555" stroke-width="0.6"/>
<line x1="186.84" y1="500.00" x2="186.84" y2="502.00" stroke="#555" stroke-width="0.6"/>
<line x1="191.70" y1="500.00" x2="191.70" y2="503.20" stroke="#555" stroke-width="0.6"/>
<text x="70.20" y="509.00" font-size="4.6" text-anchor="middle" fill="#555">0</text>
<text x="94.50" y="509.00" font-size="4.6" text-anchor="middle" fill="#555">50</text>
<text x="118.80" y="509.00" font-size="4.6" text-anchor="middle" fill="#555">100</text>
<text x="143.10" y="509.00" font-size="4.6" text-anchor="middle" fill="#555">150</text>
<text x="167.40" y="509.00" font-size="4.6" text-anchor="middle" fill="#555">200</text>
<text x="191.70" y="509.00" font-size="4.6" text-anchor="middle" fill="#555">250</text>
<text x="131.95" y="513.50" font-size="4.4" text-anchor="middle" fill="#555">PI</text>
<text x="120.60" y="419.20" font-size="10.2" font-weight="bold" fill="#111">%G<tspan dy="2.8" font-size="7.2">1</tspan><tspan dy="-2.8">= 54.68</tspan></text>
<text x="120.60" y="430.40" font-size="10.2" font-weight="bold" fill="#111">%S = 31.39</text>
<text x="120.60" y="441.60" font-size="10.2" font-weight="bold" fill="#111">%G<tspan dy="2.8" font-size="7.2">2</tspan><tspan dy="-2.8">&#8211;M = 13.92</tspan></text>
<polygon points="216.70,500.20 216.70,456.90 221.50,464.60 228.30,470.40 233.10,453.00 235.70,448.50 238.80,451.00 242.20,459.00 245.00,446.00 246.80,440.80 248.00,441.00 250.50,452.00 253.40,471.50 256.20,474.00 263.80,481.90 273.50,489.60 283.00,493.50 290.80,497.30 296.50,500.20 296.50,500.20" fill="#c7c3e4"/>
<polygon points="244.05,500.20 244.05,500.06 244.30,499.99 244.55,499.88 244.80,499.73 245.05,499.51 245.30,499.21 245.55,498.81 245.80,498.30 246.05,497.63 246.30,496.80 246.55,495.79 246.80,494.59 247.05,493.20 247.30,491.62 247.55,489.90 247.80,488.06 248.05,486.17 248.30,484.30 248.55,482.52 248.80,480.92 249.05,479.57 249.30,478.55 249.55,477.92 249.80,477.70 250.05,477.92 250.30,478.55 250.55,479.57 250.80,480.92 251.05,482.52 251.30,484.30 251.55,486.17 251.80,488.06 252.05,489.90 252.30,491.62 252.55,493.20 252.80,494.59 253.05,495.79 253.30,496.80 253.55,497.63 253.80,498.30 254.05,498.81 254.30,499.21 254.55,499.51 254.80,499.73 255.05,499.88 255.30,499.99 255.55,500.06 255.55,500.20" fill="#e61e26" stroke="#b0141c" stroke-width="0.5"/>
<polygon points="278.40,500.20 278.40,500.16 278.65,500.14 278.90,500.13 279.15,500.11 279.40,500.08 279.65,500.05 279.90,500.02 280.15,499.97 280.40,499.92 280.65,499.85 280.90,499.78 281.15,499.69 281.40,499.59 281.65,499.47 281.90,499.33 282.15,499.18 282.40,499.01 282.65,498.82 282.90,498.60 283.15,498.37 283.40,498.12 283.65,497.85 283.90,497.57 284.15,497.27 284.40,496.96 284.65,496.64 284.90,496.32 285.15,496.00 285.40,495.68 285.65,495.37 285.90,495.08 286.15,494.80 286.40,494.55 286.65,494.33 286.90,494.15 287.15,494.00 287.40,493.89 287.65,493.82 287.90,493.80 288.15,493.82 288.40,493.89 288.65,494.00 288.90,494.15 289.15,494.33 289.40,494.55 289.65,494.80 289.90,495.08 290.15,495.37 290.40,495.68 290.65,496.00 290.90,496.32 291.15,496.64 291.40,496.96 291.65,497.27 291.90,497.57 292.15,497.85 292.40,498.12 292.65,498.37 292.90,498.60 293.15,498.82 293.40,499.01 293.65,499.18 293.90,499.33 294.15,499.47 294.40,499.59 294.65,499.69 294.90,499.78 295.15,499.85 295.40,499.92 295.65,499.97 295.90,500.02 296.15,500.05 296.40,500.08 296.65,500.11 296.90,500.13 297.15,500.14 297.40,500.16 297.40,500.20" fill="#3550b8" stroke="#243a90" stroke-width="0.5"/>
<polyline points="216.60,499.90 217.20,453.41 217.80,455.49 218.40,458.30 219.00,455.47 219.60,459.23 220.20,458.19 220.80,462.79 221.40,462.01 222.00,463.02 222.60,460.22 223.20,462.11 223.80,461.65 224.40,462.03 225.00,462.66 225.60,464.99 226.20,464.84 226.80,468.17 227.40,468.64 228.00,469.06 228.60,467.54 229.20,467.46 229.80,461.24 230.40,461.51 231.00,459.27 231.60,454.98 232.20,453.82 232.80,449.83 233.40,448.17 234.00,445.69 234.60,444.54 235.20,445.73 235.80,441.91 236.40,441.11 237.00,434.91 237.60,441.26 238.20,441.63 238.80,444.74 239.40,445.34 240.00,443.27 240.60,443.36 241.20,445.72 241.80,452.50 242.40,455.21 243.00,453.93 243.60,453.70 244.20,451.04 244.80,449.42 245.40,444.01 246.00,437.61 246.60,435.06 247.20,426.43 247.80,420.65 248.40,419.35 249.00,425.22 249.60,430.46 250.20,436.59 250.80,444.09 251.40,449.02 252.00,451.83 252.60,453.61 253.20,456.85 253.80,461.80 254.40,465.34 255.00,467.50 255.60,467.64 256.20,472.17 256.80,471.25 257.40,471.82 258.00,475.00 258.60,475.97 259.20,473.20 259.80,474.99 260.40,477.21 261.00,478.28 261.60,477.50 262.20,479.47 262.80,478.06 263.40,478.72 264.00,478.34 264.60,481.94 265.20,483.46 265.80,483.60 266.40,481.04 267.00,482.96 267.60,483.89 268.20,485.62 268.80,484.22 269.40,486.05 270.00,483.88 270.60,483.17 271.20,485.78 271.80,484.83 272.40,485.99 273.00,488.13 273.60,490.53 274.20,488.22 274.80,488.32 275.40,489.54 276.00,490.25 276.60,489.01 277.20,490.96 277.80,488.22 278.40,488.57 279.00,489.26 279.60,489.45 280.20,486.10 280.80,488.35 281.40,487.91 282.00,484.87 282.60,483.09 283.20,486.35 283.80,483.88 284.40,485.33 285.00,483.32 285.60,482.37 286.20,481.01 286.80,486.09 287.40,485.03 288.00,486.74 288.60,488.13 289.20,488.23 289.80,491.25 290.40,494.04 291.00,495.28 291.60,493.04 292.20,495.40 292.80,495.52 293.40,497.56 294.00,497.79 294.60,498.32 295.20,498.93 295.80,498.82 296.40,498.68 297.00,499.35 297.60,499.30 298.20,499.50 298.80,499.60 299.40,499.61 300.00,499.61 300.60,499.61 301.20,499.62 301.80,499.62 302.40,499.62 303.00,499.63 303.60,499.63 304.20,499.63 304.80,499.64 305.40,499.64 306.00,499.64 306.60,499.65 307.20,499.65 307.80,499.66 308.40,499.66 309.00,499.66 309.60,499.67 310.20,499.67 310.80,499.67 311.40,499.68 312.00,499.68 312.60,499.68 313.20,499.69 313.80,499.69 314.40,499.69 315.00,499.70 315.60,499.70 316.20,499.71 316.80,499.71 317.40,499.71 318.00,499.72 318.60,499.72 319.20,499.72 319.80,499.73 320.40,499.73 321.00,499.73 321.60,499.74 322.20,499.74 322.80,499.75 323.40,499.75 324.00,499.75 324.60,499.76 325.20,499.76 325.80,499.76 326.40,499.77 327.00,499.77 327.60,499.77 328.20,499.78 328.80,499.78 329.40,499.78 330.00,499.79 330.60,499.79 331.20,499.80 331.80,499.80 332.40,499.90" fill="none" stroke="#8c8c8c" stroke-width="0.8"/>
<polyline points="216.60,499.90 217.20,458.42 217.80,459.52 218.40,460.17 219.00,461.38 219.60,461.20 220.20,463.32 220.80,463.11 221.40,463.75 222.00,464.73 222.60,466.31 223.20,466.48 223.80,467.17 224.40,467.84 225.00,467.43 225.60,468.60 226.20,468.19 226.80,469.52 227.40,470.01 228.00,470.12 228.60,469.69 229.20,467.08 229.80,465.28 230.40,462.31 231.00,460.87 231.60,459.11 232.20,456.98 232.80,453.79 233.40,451.71 234.00,452.26 234.60,450.53 235.20,448.61 235.80,448.11 236.40,448.44 237.00,449.70 237.60,449.55 238.20,450.01 238.80,450.86 239.40,452.60 240.00,453.89 240.60,454.65 241.20,457.23 241.80,457.20 242.40,457.52 243.00,454.51 243.60,451.91 244.20,449.66 244.80,446.71 245.40,442.92 246.00,439.50 246.60,435.26 247.20,429.94 247.80,423.44 248.40,419.06 249.00,415.57 249.60,414.84 250.20,419.27 250.80,426.32 251.40,435.56 252.00,447.52 252.60,456.27 253.20,464.17 253.80,469.87 254.40,471.82 255.00,472.63 255.60,473.35 256.20,474.75 256.80,475.42 257.40,475.74 258.00,476.77 258.60,476.12 259.20,476.55 259.80,478.14 260.40,478.40 261.00,478.16 261.60,479.21 262.20,479.96 262.80,481.30 263.40,480.77 264.00,481.90 264.60,481.91 265.20,483.37 265.80,484.35 266.40,483.73 267.00,484.10 267.60,484.96 268.20,485.14 268.80,485.48 269.40,487.04 270.00,486.46 270.60,487.85 271.20,487.11 271.80,488.32 272.40,487.92 273.00,489.69 273.60,490.50 274.20,490.75 274.80,489.57 275.40,490.26 276.00,489.82 276.60,490.13 277.20,490.65 277.80,491.19 278.40,490.74 279.00,491.99 279.60,492.67 280.20,491.59 280.80,492.56 281.40,492.06 282.00,491.98 282.60,490.99 283.20,491.42 283.80,491.35 284.40,490.27 285.00,489.83 285.60,488.41 286.20,487.38 286.80,487.90 287.40,487.52 288.00,487.35 288.60,488.68 289.20,489.77 289.80,489.67 290.40,491.07 291.00,493.09 291.60,493.98 292.20,495.12 292.80,496.11 293.40,497.22 294.00,497.67 294.60,498.50 295.20,499.20 295.80,499.58 296.40,499.90 297.00,499.90 297.60,499.90 298.20,499.90 298.80,499.90 299.40,499.90 300.00,499.90 300.60,499.90 301.20,499.90 301.80,499.90 302.40,499.90 303.00,499.90 303.60,499.90 304.20,499.90 304.80,499.90 305.40,499.90 306.00,499.90 306.60,499.90 307.20,499.90 307.80,499.90 308.40,499.90 309.00,499.90 309.60,499.90 310.20,499.90 310.80,499.90 311.40,499.90 312.00,499.90 312.60,499.90 313.20,499.90 313.80,499.90 314.40,499.90 315.00,499.90 315.60,499.90 316.20,499.90 316.80,499.90 317.40,499.90 318.00,499.90 318.60,499.90 319.20,499.90 319.80,499.90 320.40,499.90 321.00,499.90 321.60,499.90 322.20,499.90 322.80,499.90 323.40,499.90 324.00,499.90 324.60,499.90 325.20,499.90 325.80,499.90 326.40,499.90 327.00,499.90 327.60,499.90 328.20,499.90 328.80,499.90 329.40,499.90 330.00,499.90 330.60,499.90 331.20,499.90 331.80,499.90 332.40,499.90" fill="none" stroke="#333" stroke-width="0.7"/>
<line x1="210.00" y1="404.80" x2="210.00" y2="500.70" stroke="#555" stroke-width="0.9"/>
<line x1="209.50" y1="500.20" x2="333.00" y2="500.20" stroke="#555" stroke-width="0.9"/>
<line x1="205.80" y1="500.20" x2="210.00" y2="500.20" stroke="#555" stroke-width="0.6"/>
<line x1="207.40" y1="495.82" x2="210.00" y2="495.82" stroke="#555" stroke-width="0.6"/>
<line x1="207.40" y1="491.44" x2="210.00" y2="491.44" stroke="#555" stroke-width="0.6"/>
<line x1="207.40" y1="487.06" x2="210.00" y2="487.06" stroke="#555" stroke-width="0.6"/>
<line x1="207.40" y1="482.68" x2="210.00" y2="482.68" stroke="#555" stroke-width="0.6"/>
<line x1="205.80" y1="478.30" x2="210.00" y2="478.30" stroke="#555" stroke-width="0.6"/>
<line x1="207.40" y1="473.92" x2="210.00" y2="473.92" stroke="#555" stroke-width="0.6"/>
<line x1="207.40" y1="469.54" x2="210.00" y2="469.54" stroke="#555" stroke-width="0.6"/>
<line x1="207.40" y1="465.16" x2="210.00" y2="465.16" stroke="#555" stroke-width="0.6"/>
<line x1="207.40" y1="460.78" x2="210.00" y2="460.78" stroke="#555" stroke-width="0.6"/>
<line x1="205.80" y1="456.40" x2="210.00" y2="456.40" stroke="#555" stroke-width="0.6"/>
<line x1="207.40" y1="452.02" x2="210.00" y2="452.02" stroke="#555" stroke-width="0.6"/>
<line x1="207.40" y1="447.64" x2="210.00" y2="447.64" stroke="#555" stroke-width="0.6"/>
<line x1="207.40" y1="443.26" x2="210.00" y2="443.26" stroke="#555" stroke-width="0.6"/>
<line x1="207.40" y1="438.88" x2="210.00" y2="438.88" stroke="#555" stroke-width="0.6"/>
<line x1="205.80" y1="434.50" x2="210.00" y2="434.50" stroke="#555" stroke-width="0.6"/>
<line x1="207.40" y1="430.12" x2="210.00" y2="430.12" stroke="#555" stroke-width="0.6"/>
<line x1="207.40" y1="425.74" x2="210.00" y2="425.74" stroke="#555" stroke-width="0.6"/>
<line x1="207.40" y1="421.36" x2="210.00" y2="421.36" stroke="#555" stroke-width="0.6"/>
<line x1="207.40" y1="416.98" x2="210.00" y2="416.98" stroke="#555" stroke-width="0.6"/>
<line x1="205.80" y1="412.60" x2="210.00" y2="412.60" stroke="#555" stroke-width="0.6"/>
<line x1="207.40" y1="408.22" x2="210.00" y2="408.22" stroke="#555" stroke-width="0.6"/>
<text transform="translate(203.80,500.20) rotate(-90)" font-size="5" text-anchor="middle" fill="#444">0</text>
<text transform="translate(203.80,478.30) rotate(-90)" font-size="5" text-anchor="middle" fill="#444">20</text>
<text transform="translate(203.80,456.40) rotate(-90)" font-size="5" text-anchor="middle" fill="#444">40</text>
<text transform="translate(203.80,434.50) rotate(-90)" font-size="5" text-anchor="middle" fill="#444">60</text>
<text transform="translate(203.80,412.60) rotate(-90)" font-size="5" text-anchor="middle" fill="#444">80</text>
<line x1="210.00" y1="500.20" x2="210.00" y2="503.40" stroke="#555" stroke-width="0.6"/>
<line x1="214.86" y1="500.20" x2="214.86" y2="502.20" stroke="#555" stroke-width="0.6"/>
<line x1="219.72" y1="500.20" x2="219.72" y2="502.20" stroke="#555" stroke-width="0.6"/>
<line x1="224.58" y1="500.20" x2="224.58" y2="502.20" stroke="#555" stroke-width="0.6"/>
<line x1="229.44" y1="500.20" x2="229.44" y2="502.20" stroke="#555" stroke-width="0.6"/>
<line x1="234.30" y1="500.20" x2="234.30" y2="503.40" stroke="#555" stroke-width="0.6"/>
<line x1="239.16" y1="500.20" x2="239.16" y2="502.20" stroke="#555" stroke-width="0.6"/>
<line x1="244.02" y1="500.20" x2="244.02" y2="502.20" stroke="#555" stroke-width="0.6"/>
<line x1="248.88" y1="500.20" x2="248.88" y2="502.20" stroke="#555" stroke-width="0.6"/>
<line x1="253.74" y1="500.20" x2="253.74" y2="502.20" stroke="#555" stroke-width="0.6"/>
<line x1="258.60" y1="500.20" x2="258.60" y2="503.40" stroke="#555" stroke-width="0.6"/>
<line x1="263.46" y1="500.20" x2="263.46" y2="502.20" stroke="#555" stroke-width="0.6"/>
<line x1="268.32" y1="500.20" x2="268.32" y2="502.20" stroke="#555" stroke-width="0.6"/>
<line x1="273.18" y1="500.20" x2="273.18" y2="502.20" stroke="#555" stroke-width="0.6"/>
<line x1="278.04" y1="500.20" x2="278.04" y2="502.20" stroke="#555" stroke-width="0.6"/>
<line x1="282.90" y1="500.20" x2="282.90" y2="503.40" stroke="#555" stroke-width="0.6"/>
<line x1="287.76" y1="500.20" x2="287.76" y2="502.20" stroke="#555" stroke-width="0.6"/>
<line x1="292.62" y1="500.20" x2="292.62" y2="502.20" stroke="#555" stroke-width="0.6"/>
<line x1="297.48" y1="500.20" x2="297.48" y2="502.20" stroke="#555" stroke-width="0.6"/>
<line x1="302.34" y1="500.20" x2="302.34" y2="502.20" stroke="#555" stroke-width="0.6"/>
<line x1="307.20" y1="500.20" x2="307.20" y2="503.40" stroke="#555" stroke-width="0.6"/>
<line x1="312.06" y1="500.20" x2="312.06" y2="502.20" stroke="#555" stroke-width="0.6"/>
<line x1="316.92" y1="500.20" x2="316.92" y2="502.20" stroke="#555" stroke-width="0.6"/>
<line x1="321.78" y1="500.20" x2="321.78" y2="502.20" stroke="#555" stroke-width="0.6"/>
<line x1="326.64" y1="500.20" x2="326.64" y2="502.20" stroke="#555" stroke-width="0.6"/>
<line x1="331.50" y1="500.20" x2="331.50" y2="503.40" stroke="#555" stroke-width="0.6"/>
<text x="210.00" y="509.20" font-size="4.6" text-anchor="middle" fill="#555">0</text>
<text x="234.30" y="509.20" font-size="4.6" text-anchor="middle" fill="#555">50</text>
<text x="258.60" y="509.20" font-size="4.6" text-anchor="middle" fill="#555">100</text>
<text x="282.90" y="509.20" font-size="4.6" text-anchor="middle" fill="#555">150</text>
<text x="307.20" y="509.20" font-size="4.6" text-anchor="middle" fill="#555">200</text>
<text x="331.50" y="509.20" font-size="4.6" text-anchor="middle" fill="#555">250</text>
<text x="271.75" y="513.70" font-size="4.4" text-anchor="middle" fill="#555">PI</text>
<text x="258.30" y="419.20" font-size="10.2" font-weight="bold" fill="#111">%G<tspan dy="2.8" font-size="7.2">1</tspan><tspan dy="-2.8">= 53.07</tspan></text>
<text x="258.30" y="430.40" font-size="10.2" font-weight="bold" fill="#111">%S = 17.33</text>
<text x="258.30" y="441.60" font-size="10.2" font-weight="bold" fill="#111">%G<tspan dy="2.8" font-size="7.2">2</tspan><tspan dy="-2.8">&#8211;M = 29.60</tspan></text>
<text x="258.30" y="452.80" font-size="10.2" font-weight="bold" fill="#111">%Debris = 90.72</text>
<polygon points="365.80,500.20 365.80,450.00 370.00,465.60 375.30,469.00 380.50,455.20 384.00,437.00 386.00,436.00 390.00,443.50 394.60,436.50 396.20,436.00 398.00,441.00 400.40,462.00 403.00,470.00 410.00,477.70 418.60,484.60 427.20,493.20 434.10,498.40 439.30,500.20 439.30,500.20" fill="#c7c3e4"/>
<polygon points="392.05,500.20 392.05,500.04 392.30,499.96 392.55,499.83 392.80,499.65 393.05,499.40 393.30,499.06 393.55,498.60 393.80,498.00 394.05,497.23 394.30,496.27 394.55,495.11 394.80,493.72 395.05,492.11 395.30,490.29 395.55,488.30 395.80,486.18 396.05,483.99 396.30,481.83 396.55,479.77 396.80,477.92 397.05,476.36 397.30,475.18 397.55,474.45 397.80,474.20 398.05,474.45 398.30,475.18 398.55,476.36 398.80,477.92 399.05,479.77 399.30,481.83 399.55,483.99 399.80,486.18 400.05,488.30 400.30,490.29 400.55,492.11 400.80,493.72 401.05,495.11 401.30,496.27 401.55,497.23 401.80,498.00 402.05,498.60 402.30,499.06 402.55,499.40 402.80,499.65 403.05,499.83 403.30,499.96 403.55,500.04 403.55,500.20" fill="#e61e26" stroke="#b0141c" stroke-width="0.5"/>
<polygon points="422.30,500.20 422.30,500.16 422.55,500.16 422.80,500.14 423.05,500.13 423.30,500.12 423.55,500.10 423.80,500.07 424.05,500.05 424.30,500.02 424.55,499.98 424.80,499.94 425.05,499.89 425.30,499.83 425.55,499.77 425.80,499.70 426.05,499.61 426.30,499.52 426.55,499.42 426.80,499.31 427.05,499.18 427.30,499.05 427.55,498.90 427.80,498.75 428.05,498.58 428.30,498.40 428.55,498.21 428.80,498.01 429.05,497.81 429.30,497.60 429.55,497.38 429.80,497.17 430.05,496.95 430.30,496.74 430.55,496.53 430.80,496.33 431.05,496.13 431.30,495.95 431.55,495.79 431.80,495.64 432.05,495.51 432.30,495.40 432.55,495.31 432.80,495.25 433.05,495.21 433.30,495.20 433.55,495.21 433.80,495.25 434.05,495.31 434.30,495.40 434.55,495.51 434.80,495.64 435.05,495.79 435.30,495.95 435.55,496.13 435.80,496.33 436.05,496.53 436.30,496.74 436.55,496.95 436.80,497.17 437.05,497.38 437.30,497.60 437.55,497.81 437.80,498.01 438.05,498.21 438.30,498.40 438.55,498.58 438.80,498.75 439.05,498.90 439.30,499.05 439.55,499.18 439.80,499.31 440.05,499.42 440.30,499.52 440.55,499.61 440.80,499.70 441.05,499.77 441.30,499.83 441.55,499.89 441.80,499.94 442.05,499.98 442.30,500.02 442.55,500.05 442.80,500.07 443.05,500.10 443.30,500.12 443.55,500.13 443.80,500.14 444.05,500.16 444.30,500.16 444.30,500.20" fill="#3550b8" stroke="#243a90" stroke-width="0.5"/>
<polyline points="365.70,499.90 366.30,447.02 366.90,447.96 367.50,451.98 368.10,454.07 368.70,458.78 369.30,462.57 369.90,461.03 370.50,460.78 371.10,461.43 371.70,462.02 372.30,461.13 372.90,457.96 373.50,456.22 374.10,457.23 374.70,458.55 375.30,460.09 375.90,462.58 376.50,462.98 377.10,462.77 377.70,458.03 378.30,458.34 378.90,453.50 379.50,454.51 380.10,452.88 380.70,448.32 381.30,446.35 381.90,443.54 382.50,440.54 383.10,439.05 383.70,435.44 384.30,435.60 384.90,430.91 385.50,423.28 386.10,418.78 386.70,416.88 387.30,423.92 387.90,432.74 388.50,436.47 389.10,437.97 389.70,441.28 390.30,441.82 390.90,444.53 391.50,443.45 392.10,438.35 392.70,436.91 393.30,438.74 393.90,434.49 394.50,425.84 395.10,424.41 395.70,419.16 396.30,414.76 396.90,415.80 397.50,417.46 398.10,421.63 398.70,425.24 399.30,434.92 399.90,447.40 400.50,455.59 401.10,456.66 401.70,460.19 402.30,464.80 402.90,467.70 403.50,468.29 404.10,469.34 404.70,469.99 405.30,472.29 405.90,470.19 406.50,468.54 407.10,470.37 407.70,465.31 408.30,465.15 408.90,463.48 409.50,468.85 410.10,471.90 410.70,472.24 411.30,469.54 411.90,469.08 412.50,469.30 413.10,468.12 413.70,467.27 414.30,471.40 414.90,471.46 415.50,474.75 416.10,477.74 416.70,476.91 417.30,477.40 417.90,476.96 418.50,475.14 419.10,477.40 419.70,477.46 420.30,478.46 420.90,482.66 421.50,481.24 422.10,483.75 422.70,484.66 423.30,481.01 423.90,480.85 424.50,480.17 425.10,481.65 425.70,487.07 426.30,486.17 426.90,487.94 427.50,483.74 428.10,484.39 428.70,485.04 429.30,481.40 429.90,481.33 430.50,478.48 431.10,478.60 431.70,479.85 432.30,483.55 432.90,483.14 433.50,486.34 434.10,488.17 434.70,491.61 435.30,491.11 435.90,491.62 436.50,492.71 437.10,495.77 437.70,497.28 438.30,497.82 438.90,497.29 439.50,498.08 440.10,498.45 440.70,498.88 441.30,499.30 441.90,499.31 442.50,499.32 443.10,499.33 443.70,499.33 444.30,499.34 444.90,499.35 445.50,499.35 446.10,499.36 446.70,499.37 447.30,499.38 447.90,499.38 448.50,499.39 449.10,499.40 449.70,499.41 450.30,499.41 450.90,499.42 451.50,499.43 452.10,499.44 452.70,499.44 453.30,499.45 453.90,499.46 454.50,499.46 455.10,499.47 455.70,499.48 456.30,499.49 456.90,499.49 457.50,499.50 458.10,499.51 458.70,499.52 459.30,499.52 459.90,499.53 460.50,499.54 461.10,499.55 461.70,499.55 462.30,499.56 462.90,499.57 463.50,499.57 464.10,499.58 464.70,499.59 465.30,499.60 465.90,499.60 466.50,499.61 467.10,499.62 467.70,499.63 468.30,499.63 468.90,499.64 469.50,499.65 470.10,499.65 470.70,499.66 471.30,499.67 471.90,499.68 472.50,499.68 473.10,499.69 473.70,499.70 474.30,499.71 474.90,499.71 475.50,499.72 476.10,499.73 476.70,499.74 477.30,499.74 477.90,499.75 478.50,499.76" fill="none" stroke="#8c8c8c" stroke-width="0.8"/>
<polyline points="365.70,499.90 366.30,451.28 366.90,454.68 367.50,455.90 368.10,459.34 368.70,460.58 369.30,462.34 369.90,466.09 370.50,465.43 371.10,465.55 371.70,467.13 372.30,467.31 372.90,466.57 373.50,468.68 374.10,467.81 374.70,468.20 375.30,468.18 375.90,468.23 376.50,466.55 377.10,465.11 377.70,462.90 378.30,460.24 378.90,458.86 379.50,458.43 380.10,455.45 380.70,454.22 381.30,450.33 381.90,448.80 382.50,444.14 383.10,441.01 383.70,439.31 384.30,436.30 384.90,437.44 385.50,435.79 386.10,437.00 386.70,437.68 387.30,437.58 387.90,440.01 388.50,440.81 389.10,441.88 389.70,443.00 390.30,442.50 390.90,442.89 391.50,440.58 392.10,440.73 392.70,438.45 393.30,436.42 393.90,434.67 394.50,430.63 395.10,427.72 395.70,422.56 396.30,416.11 396.90,411.97 397.50,411.30 398.10,413.85 398.70,421.90 399.30,431.84 399.90,443.33 400.50,453.81 401.10,459.43 401.70,464.12 402.30,465.91 402.90,469.59 403.50,470.62 404.10,471.99 404.70,471.81 405.30,473.20 405.90,473.24 406.50,474.06 407.10,474.38 407.70,475.67 408.30,476.47 408.90,477.36 409.50,476.64 410.10,478.47 410.70,478.92 411.30,478.49 411.90,479.23 412.50,479.48 413.10,480.86 413.70,480.03 414.30,480.92 414.90,480.98 415.50,481.79 416.10,481.75 416.70,483.83 417.30,483.98 417.90,484.65 418.50,484.41 419.10,484.42 419.70,485.48 420.30,487.00 420.90,486.33 421.50,487.66 422.10,487.21 422.70,487.75 423.30,488.62 423.90,489.52 424.50,490.10 425.10,490.97 425.70,490.36 426.30,491.76 426.90,491.57 427.50,492.66 428.10,490.84 428.70,491.45 429.30,491.99 429.90,491.03 430.50,491.66 431.10,490.61 431.70,490.99 432.30,491.59 432.90,491.17 433.50,490.98 434.10,492.71 434.70,492.24 435.30,493.55 435.90,493.68 436.50,495.42 437.10,495.86 437.70,496.58 438.30,497.76 438.90,498.36 439.50,498.71 440.10,499.22 440.70,499.50 441.30,499.72 441.90,499.88 442.50,499.90 443.10,499.90 443.70,499.90 444.30,499.90 444.90,499.90 445.50,499.90 446.10,499.90 446.70,499.90 447.30,499.90 447.90,499.90 448.50,499.90 449.10,499.90 449.70,499.90 450.30,499.90 450.90,499.90 451.50,499.90 452.10,499.90 452.70,499.90 453.30,499.90 453.90,499.90 454.50,499.90 455.10,499.90 455.70,499.90 456.30,499.90 456.90,499.90 457.50,499.90 458.10,499.90 458.70,499.90 459.30,499.90 459.90,499.90 460.50,499.90 461.10,499.90 461.70,499.90 462.30,499.90 462.90,499.90 463.50,499.90 464.10,499.90 464.70,499.90 465.30,499.90 465.90,499.90 466.50,499.90 467.10,499.90 467.70,499.90 468.30,499.90 468.90,499.90 469.50,499.90 470.10,499.90 470.70,499.90 471.30,499.90 471.90,499.90 472.50,499.90 473.10,499.90 473.70,499.90 474.30,499.90 474.90,499.90 475.50,499.90 476.10,499.90 476.70,499.90 477.30,499.90 477.90,499.90 478.50,499.90" fill="none" stroke="#333" stroke-width="0.7"/>
<line x1="359.50" y1="407.70" x2="359.50" y2="500.70" stroke="#555" stroke-width="0.9"/>
<line x1="359.00" y1="500.20" x2="478.70" y2="500.20" stroke="#555" stroke-width="0.9"/>
<line x1="355.30" y1="500.20" x2="359.50" y2="500.20" stroke="#555" stroke-width="0.6"/>
<line x1="356.90" y1="496.34" x2="359.50" y2="496.34" stroke="#555" stroke-width="0.6"/>
<line x1="356.90" y1="492.48" x2="359.50" y2="492.48" stroke="#555" stroke-width="0.6"/>
<line x1="356.90" y1="488.62" x2="359.50" y2="488.62" stroke="#555" stroke-width="0.6"/>
<line x1="356.90" y1="484.76" x2="359.50" y2="484.76" stroke="#555" stroke-width="0.6"/>
<line x1="355.30" y1="480.90" x2="359.50" y2="480.90" stroke="#555" stroke-width="0.6"/>
<line x1="356.90" y1="477.04" x2="359.50" y2="477.04" stroke="#555" stroke-width="0.6"/>
<line x1="356.90" y1="473.18" x2="359.50" y2="473.18" stroke="#555" stroke-width="0.6"/>
<line x1="356.90" y1="469.32" x2="359.50" y2="469.32" stroke="#555" stroke-width="0.6"/>
<line x1="356.90" y1="465.46" x2="359.50" y2="465.46" stroke="#555" stroke-width="0.6"/>
<line x1="355.30" y1="461.60" x2="359.50" y2="461.60" stroke="#555" stroke-width="0.6"/>
<line x1="356.90" y1="457.74" x2="359.50" y2="457.74" stroke="#555" stroke-width="0.6"/>
<line x1="356.90" y1="453.88" x2="359.50" y2="453.88" stroke="#555" stroke-width="0.6"/>
<line x1="356.90" y1="450.02" x2="359.50" y2="450.02" stroke="#555" stroke-width="0.6"/>
<line x1="356.90" y1="446.16" x2="359.50" y2="446.16" stroke="#555" stroke-width="0.6"/>
<line x1="355.30" y1="442.30" x2="359.50" y2="442.30" stroke="#555" stroke-width="0.6"/>
<line x1="356.90" y1="438.44" x2="359.50" y2="438.44" stroke="#555" stroke-width="0.6"/>
<line x1="356.90" y1="434.58" x2="359.50" y2="434.58" stroke="#555" stroke-width="0.6"/>
<line x1="356.90" y1="430.72" x2="359.50" y2="430.72" stroke="#555" stroke-width="0.6"/>
<line x1="356.90" y1="426.86" x2="359.50" y2="426.86" stroke="#555" stroke-width="0.6"/>
<line x1="355.30" y1="423.00" x2="359.50" y2="423.00" stroke="#555" stroke-width="0.6"/>
<line x1="356.90" y1="419.14" x2="359.50" y2="419.14" stroke="#555" stroke-width="0.6"/>
<line x1="356.90" y1="415.28" x2="359.50" y2="415.28" stroke="#555" stroke-width="0.6"/>
<line x1="356.90" y1="411.42" x2="359.50" y2="411.42" stroke="#555" stroke-width="0.6"/>
<text transform="translate(353.30,500.20) rotate(-90)" font-size="5" text-anchor="middle" fill="#444">0</text>
<text transform="translate(353.30,480.90) rotate(-90)" font-size="5" text-anchor="middle" fill="#444">20</text>
<text transform="translate(353.30,461.60) rotate(-90)" font-size="5" text-anchor="middle" fill="#444">40</text>
<text transform="translate(353.30,442.30) rotate(-90)" font-size="5" text-anchor="middle" fill="#444">60</text>
<text transform="translate(353.30,423.00) rotate(-90)" font-size="5" text-anchor="middle" fill="#444">80</text>
<text transform="translate(347.50,453.65) rotate(-90)" font-size="4.6" text-anchor="middle" fill="#555">Number</text>
<line x1="359.50" y1="500.20" x2="359.50" y2="503.40" stroke="#555" stroke-width="0.6"/>
<line x1="364.21" y1="500.20" x2="364.21" y2="502.20" stroke="#555" stroke-width="0.6"/>
<line x1="368.92" y1="500.20" x2="368.92" y2="502.20" stroke="#555" stroke-width="0.6"/>
<line x1="373.62" y1="500.20" x2="373.62" y2="502.20" stroke="#555" stroke-width="0.6"/>
<line x1="378.33" y1="500.20" x2="378.33" y2="502.20" stroke="#555" stroke-width="0.6"/>
<line x1="383.04" y1="500.20" x2="383.04" y2="503.40" stroke="#555" stroke-width="0.6"/>
<line x1="387.75" y1="500.20" x2="387.75" y2="502.20" stroke="#555" stroke-width="0.6"/>
<line x1="392.46" y1="500.20" x2="392.46" y2="502.20" stroke="#555" stroke-width="0.6"/>
<line x1="397.16" y1="500.20" x2="397.16" y2="502.20" stroke="#555" stroke-width="0.6"/>
<line x1="401.87" y1="500.20" x2="401.87" y2="502.20" stroke="#555" stroke-width="0.6"/>
<line x1="406.58" y1="500.20" x2="406.58" y2="503.40" stroke="#555" stroke-width="0.6"/>
<line x1="411.29" y1="500.20" x2="411.29" y2="502.20" stroke="#555" stroke-width="0.6"/>
<line x1="416.00" y1="500.20" x2="416.00" y2="502.20" stroke="#555" stroke-width="0.6"/>
<line x1="420.70" y1="500.20" x2="420.70" y2="502.20" stroke="#555" stroke-width="0.6"/>
<line x1="425.41" y1="500.20" x2="425.41" y2="502.20" stroke="#555" stroke-width="0.6"/>
<line x1="430.12" y1="500.20" x2="430.12" y2="503.40" stroke="#555" stroke-width="0.6"/>
<line x1="434.83" y1="500.20" x2="434.83" y2="502.20" stroke="#555" stroke-width="0.6"/>
<line x1="439.54" y1="500.20" x2="439.54" y2="502.20" stroke="#555" stroke-width="0.6"/>
<line x1="444.24" y1="500.20" x2="444.24" y2="502.20" stroke="#555" stroke-width="0.6"/>
<line x1="448.95" y1="500.20" x2="448.95" y2="502.20" stroke="#555" stroke-width="0.6"/>
<line x1="453.66" y1="500.20" x2="453.66" y2="503.40" stroke="#555" stroke-width="0.6"/>
<line x1="458.37" y1="500.20" x2="458.37" y2="502.20" stroke="#555" stroke-width="0.6"/>
<line x1="463.08" y1="500.20" x2="463.08" y2="502.20" stroke="#555" stroke-width="0.6"/>
<line x1="467.78" y1="500.20" x2="467.78" y2="502.20" stroke="#555" stroke-width="0.6"/>
<line x1="472.49" y1="500.20" x2="472.49" y2="502.20" stroke="#555" stroke-width="0.6"/>
<line x1="477.20" y1="500.20" x2="477.20" y2="503.40" stroke="#555" stroke-width="0.6"/>
<text x="359.50" y="509.20" font-size="4.6" text-anchor="middle" fill="#555">0</text>
<text x="383.04" y="509.20" font-size="4.6" text-anchor="middle" fill="#555">50</text>
<text x="406.58" y="509.20" font-size="4.6" text-anchor="middle" fill="#555">100</text>
<text x="430.12" y="509.20" font-size="4.6" text-anchor="middle" fill="#555">150</text>
<text x="453.66" y="509.20" font-size="4.6" text-anchor="middle" fill="#555">200</text>
<text x="477.20" y="509.20" font-size="4.6" text-anchor="middle" fill="#555">250</text>
<text x="419.35" y="513.70" font-size="4.4" text-anchor="middle" fill="#555">PI</text>
<text x="408.30" y="419.20" font-size="10.2" font-weight="bold" fill="#111">%G<tspan dy="2.8" font-size="7.2">1</tspan><tspan dy="-2.8">= 42.48</tspan></text>
<text x="408.30" y="430.40" font-size="10.2" font-weight="bold" fill="#111">%S = 39.67</text>
<text x="408.30" y="441.60" font-size="10.2" font-weight="bold" fill="#111">%G<tspan dy="2.8" font-size="7.2">2</tspan><tspan dy="-2.8">&#8211;M = 17.84</tspan></text>
<text x="408.30" y="452.80" font-size="10.2" font-weight="bold" fill="#111">%Debris = 88.77</text>
<rect x="110.00" y="608.50" width="24.00" height="3.00" fill="#d0cde8"/>
<polygon points="98.65,611.50 98.65,610.94 98.90,610.68 99.15,610.31 99.40,609.81 99.65,609.14 99.90,608.25 100.15,607.09 100.40,605.61 100.65,603.76 100.90,601.49 101.15,598.74 101.40,595.50 101.65,591.74 101.90,587.48 102.15,582.75 102.40,577.62 102.65,572.20 102.90,566.62 103.15,561.04 103.40,555.64 103.65,550.63 103.90,546.20 104.15,542.52 104.40,539.78 104.65,538.08 104.90,537.50 105.15,538.08 105.40,539.78 105.65,542.52 105.90,546.20 106.15,550.63 106.40,555.64 106.65,561.04 106.90,566.62 107.15,572.20 107.40,577.62 107.65,582.75 107.90,587.48 108.15,591.74 108.40,595.50 108.65,598.74 108.90,601.49 109.15,603.76 109.40,605.61 109.65,607.09 109.90,608.25 110.15,609.14 110.40,609.81 110.65,610.31 110.90,610.68 111.15,610.94 111.15,611.50" fill="#e61e26" stroke="#b0141c" stroke-width="0.5"/>
<polygon points="129.05,611.50 129.05,611.45 129.30,611.43 129.55,611.41 129.80,611.38 130.05,611.35 130.30,611.31 130.55,611.25 130.80,611.19 131.05,611.12 131.30,611.03 131.55,610.92 131.80,610.80 132.05,610.65 132.30,610.48 132.55,610.29 132.80,610.08 133.05,609.84 133.30,609.58 133.55,609.29 133.80,608.98 134.05,608.65 134.30,608.30 134.55,607.93 134.80,607.56 135.05,607.18 135.30,606.80 135.55,606.43 135.80,606.08 136.05,605.74 136.30,605.44 136.55,605.16 136.80,604.93 137.05,604.75 137.30,604.61 137.55,604.53 137.80,604.50 138.05,604.53 138.30,604.61 138.55,604.75 138.80,604.93 139.05,605.16 139.30,605.44 139.55,605.74 139.80,606.08 140.05,606.43 140.30,606.80 140.55,607.18 140.80,607.56 141.05,607.93 141.30,608.30 141.55,608.65 141.80,608.98 142.05,609.29 142.30,609.58 142.55,609.84 142.80,610.08 143.05,610.29 143.30,610.48 143.55,610.65 143.80,610.80 144.05,610.92 144.30,611.03 144.55,611.12 144.80,611.19 145.05,611.25 145.30,611.31 145.55,611.35 145.80,611.38 146.05,611.41 146.30,611.43 146.55,611.45 146.55,611.50" fill="#3550b8" stroke="#243a90" stroke-width="0.5"/>
<polyline points="72.00,609.99 72.70,610.06 73.40,610.23 74.10,609.79 74.80,609.71 75.50,610.15 76.20,609.91 76.90,609.64 77.60,609.99 78.30,609.92 79.00,609.63 79.70,609.91 80.40,609.78 81.10,609.70 81.80,609.37 82.50,609.16 83.20,609.64 83.90,609.67 84.60,609.40 85.30,609.49 86.00,609.55 86.70,609.32 87.40,609.64 88.10,609.55 88.80,609.42 89.50,609.22 90.20,609.54 90.90,609.38 91.60,609.67 92.30,609.28 93.00,609.45 93.70,609.32 94.40,609.50 95.10,609.66 95.80,609.37 96.50,609.39 97.20,609.76 97.90,609.57 98.60,609.62 99.30,608.61 100.00,606.77 100.70,602.20 101.40,593.75 102.10,581.03 102.80,561.66 103.50,542.74 104.20,527.45 104.90,521.52 105.60,527.39 106.30,542.33 107.00,561.01 107.70,578.83 108.40,591.70 109.10,600.60 109.80,603.99 110.50,606.03 111.20,605.98 111.90,606.19 112.60,606.01 113.30,605.43 114.00,605.55 114.70,606.17 115.40,605.93 116.10,605.74 116.80,605.78 117.50,605.37 118.20,605.54 118.90,605.85 119.60,605.21 120.30,605.41 121.00,606.03 121.70,605.23 122.40,605.75 123.10,605.24 123.80,605.57 124.50,605.27 125.20,605.55 125.90,605.68 126.60,605.64 127.30,605.52 128.00,605.58 128.70,605.70 129.40,605.72 130.10,605.67 130.80,605.39 131.50,605.78 132.20,605.25 132.90,604.53 133.60,603.95 134.30,602.38 135.00,601.73 135.70,600.22 136.40,598.52 137.10,597.81 137.80,597.39 138.50,598.30 139.20,600.03 139.90,601.08 140.60,602.62 141.30,605.26 142.00,607.04 142.70,608.38 143.40,608.86 144.10,609.39 144.80,610.31 145.50,610.17 146.20,609.99 146.90,610.17 147.60,609.75 148.30,610.03 149.00,610.12 149.70,610.07 150.40,609.76 151.10,609.74 151.80,610.09 152.50,610.28 153.20,609.74 153.90,609.65 154.60,609.70 155.30,610.21 156.00,609.92 156.70,609.97 157.40,610.36 158.10,610.08 158.80,609.83 159.50,610.14 160.20,609.64 160.90,609.84 161.60,610.14 162.30,609.76 163.00,609.66 163.70,610.01 164.40,609.88 165.10,610.34 165.80,609.71 166.50,610.22 167.20,609.92 167.90,610.22 168.60,609.96 169.30,610.12 170.00,609.88 170.70,609.80 171.40,609.97 172.10,610.22 172.80,609.89 173.50,609.81 174.20,609.94 174.90,609.71 175.60,609.87 176.30,610.05 177.00,610.03 177.70,610.07 178.40,609.85 179.10,609.66 179.80,609.66 180.50,609.88 181.20,609.78 181.90,610.05 182.60,609.83 183.30,610.19 184.00,610.07 184.70,610.12 185.40,610.17 186.10,610.02 186.80,609.95 187.50,609.86 188.20,609.69 188.90,610.21 189.60,610.00" fill="none" stroke="#9a9a9a" stroke-width="0.9"/>
<polyline points="72.00,611.20 72.70,611.20 73.40,611.20 74.10,611.20 74.80,611.20 75.50,611.17 76.20,611.07 76.90,610.98 77.60,610.90 78.30,610.84 79.00,610.80 79.70,610.76 80.40,610.74 81.10,610.73 81.80,610.72 82.50,610.71 83.20,610.71 83.90,610.70 84.60,610.70 85.30,610.70 86.00,610.70 86.70,610.70 87.40,610.70 88.10,610.70 88.80,610.70 89.50,610.70 90.20,610.70 90.90,610.71 91.60,610.71 92.30,610.72 93.00,610.73 93.70,610.74 94.40,610.77 95.10,610.80 95.80,610.85 96.50,610.91 97.20,610.97 97.90,610.99 98.60,610.82 99.30,610.05 100.00,608.26 100.70,603.38 101.40,594.64 102.10,581.96 102.80,562.85 103.50,544.01 104.20,528.97 104.90,522.88 105.60,528.72 106.30,543.21 107.00,562.48 107.70,579.71 108.40,592.92 109.10,601.85 109.80,605.36 110.50,606.90 111.20,607.40 111.90,607.33 112.60,607.20 113.30,606.85 114.00,606.95 114.70,607.02 115.40,606.93 116.10,606.77 116.80,606.69 117.50,606.86 118.20,606.60 118.90,606.87 119.60,606.61 120.30,606.64 121.00,606.89 121.70,606.56 122.40,606.76 123.10,606.68 123.80,606.65 124.50,606.63 125.20,606.75 125.90,606.98 126.60,606.57 127.30,606.55 128.00,606.78 128.70,606.76 129.40,606.97 130.10,606.65 130.80,606.77 131.50,606.95 132.20,606.38 132.90,605.81 133.60,605.48 134.30,603.82 135.00,602.83 135.70,601.62 136.40,599.53 137.10,599.00 137.80,598.27 138.50,599.25 139.20,601.07 139.90,602.38 140.60,604.15 141.30,606.42 142.00,608.07 142.70,609.27 143.40,610.27 144.10,610.83 144.80,611.16 145.50,611.20 146.20,611.20 146.90,611.20 147.60,611.20 148.30,611.20 149.00,611.20 149.70,611.20 150.40,611.20 151.10,611.20 151.80,611.20 152.50,611.20 153.20,611.20 153.90,611.20 154.60,611.20 155.30,611.20 156.00,611.20 156.70,611.20 157.40,611.20 158.10,611.20 158.80,611.20 159.50,611.20 160.20,611.20 160.90,611.20 161.60,611.20 162.30,611.20 163.00,611.20 163.70,611.20 164.40,611.20 165.10,611.20 165.80,611.20 166.50,611.20 167.20,611.20 167.90,611.20 168.60,611.20 169.30,611.20 170.00,611.20 170.70,611.20 171.40,611.20 172.10,611.20 172.80,611.20 173.50,611.20 174.20,611.20 174.90,611.20 175.60,611.20 176.30,611.20 177.00,611.20 177.70,611.20 178.40,611.20 179.10,611.20 179.80,611.20 180.50,611.20 181.20,611.20 181.90,611.20 182.60,611.20 183.30,611.20 184.00,611.20 184.70,611.20 185.40,611.20 186.10,611.20 186.80,611.20 187.50,611.20 188.20,611.20 188.90,611.20 189.60,611.20" fill="none" stroke="#444" stroke-width="0.7"/>
<line x1="69.80" y1="518.80" x2="69.80" y2="612.00" stroke="#555" stroke-width="0.9"/>
<line x1="69.30" y1="611.50" x2="190.00" y2="611.50" stroke="#555" stroke-width="0.9"/>
<line x1="65.60" y1="611.50" x2="69.80" y2="611.50" stroke="#555" stroke-width="0.6"/>
<line x1="67.20" y1="608.36" x2="69.80" y2="608.36" stroke="#555" stroke-width="0.6"/>
<line x1="67.20" y1="605.22" x2="69.80" y2="605.22" stroke="#555" stroke-width="0.6"/>
<line x1="67.20" y1="602.08" x2="69.80" y2="602.08" stroke="#555" stroke-width="0.6"/>
<line x1="67.20" y1="598.94" x2="69.80" y2="598.94" stroke="#555" stroke-width="0.6"/>
<line x1="65.60" y1="595.80" x2="69.80" y2="595.80" stroke="#555" stroke-width="0.6"/>
<line x1="67.20" y1="592.66" x2="69.80" y2="592.66" stroke="#555" stroke-width="0.6"/>
<line x1="67.20" y1="589.52" x2="69.80" y2="589.52" stroke="#555" stroke-width="0.6"/>
<line x1="67.20" y1="586.38" x2="69.80" y2="586.38" stroke="#555" stroke-width="0.6"/>
<line x1="67.20" y1="583.24" x2="69.80" y2="583.24" stroke="#555" stroke-width="0.6"/>
<line x1="65.60" y1="580.10" x2="69.80" y2="580.10" stroke="#555" stroke-width="0.6"/>
<line x1="67.20" y1="576.96" x2="69.80" y2="576.96" stroke="#555" stroke-width="0.6"/>
<line x1="67.20" y1="573.82" x2="69.80" y2="573.82" stroke="#555" stroke-width="0.6"/>
<line x1="67.20" y1="570.68" x2="69.80" y2="570.68" stroke="#555" stroke-width="0.6"/>
<line x1="67.20" y1="567.54" x2="69.80" y2="567.54" stroke="#555" stroke-width="0.6"/>
<line x1="65.60" y1="564.40" x2="69.80" y2="564.40" stroke="#555" stroke-width="0.6"/>
<line x1="67.20" y1="561.26" x2="69.80" y2="561.26" stroke="#555" stroke-width="0.6"/>
<line x1="67.20" y1="558.12" x2="69.80" y2="558.12" stroke="#555" stroke-width="0.6"/>
<line x1="67.20" y1="554.98" x2="69.80" y2="554.98" stroke="#555" stroke-width="0.6"/>
<line x1="67.20" y1="551.84" x2="69.80" y2="551.84" stroke="#555" stroke-width="0.6"/>
<line x1="65.60" y1="548.70" x2="69.80" y2="548.70" stroke="#555" stroke-width="0.6"/>
<line x1="67.20" y1="545.56" x2="69.80" y2="545.56" stroke="#555" stroke-width="0.6"/>
<line x1="67.20" y1="542.42" x2="69.80" y2="542.42" stroke="#555" stroke-width="0.6"/>
<line x1="67.20" y1="539.28" x2="69.80" y2="539.28" stroke="#555" stroke-width="0.6"/>
<line x1="67.20" y1="536.14" x2="69.80" y2="536.14" stroke="#555" stroke-width="0.6"/>
<line x1="65.60" y1="533.00" x2="69.80" y2="533.00" stroke="#555" stroke-width="0.6"/>
<line x1="67.20" y1="529.86" x2="69.80" y2="529.86" stroke="#555" stroke-width="0.6"/>
<line x1="67.20" y1="526.72" x2="69.80" y2="526.72" stroke="#555" stroke-width="0.6"/>
<line x1="67.20" y1="523.58" x2="69.80" y2="523.58" stroke="#555" stroke-width="0.6"/>
<line x1="67.20" y1="520.44" x2="69.80" y2="520.44" stroke="#555" stroke-width="0.6"/>
<text transform="translate(63.60,611.50) rotate(-90)" font-size="5" text-anchor="middle" fill="#444">0</text>
<text transform="translate(63.60,595.80) rotate(-90)" font-size="5" text-anchor="middle" fill="#444">10</text>
<text transform="translate(63.60,580.10) rotate(-90)" font-size="5" text-anchor="middle" fill="#444">20</text>
<text transform="translate(63.60,564.40) rotate(-90)" font-size="5" text-anchor="middle" fill="#444">30</text>
<text transform="translate(63.60,548.70) rotate(-90)" font-size="5" text-anchor="middle" fill="#444">40</text>
<text transform="translate(63.60,533.00) rotate(-90)" font-size="5" text-anchor="middle" fill="#444">50</text>
<text transform="translate(57.80,564.85) rotate(-90)" font-size="4.6" text-anchor="middle" fill="#555">Number</text>
<line x1="69.80" y1="611.50" x2="69.80" y2="614.70" stroke="#555" stroke-width="0.6"/>
<line x1="74.55" y1="611.50" x2="74.55" y2="613.50" stroke="#555" stroke-width="0.6"/>
<line x1="79.30" y1="611.50" x2="79.30" y2="613.50" stroke="#555" stroke-width="0.6"/>
<line x1="84.04" y1="611.50" x2="84.04" y2="613.50" stroke="#555" stroke-width="0.6"/>
<line x1="88.79" y1="611.50" x2="88.79" y2="613.50" stroke="#555" stroke-width="0.6"/>
<line x1="93.54" y1="611.50" x2="93.54" y2="614.70" stroke="#555" stroke-width="0.6"/>
<line x1="98.29" y1="611.50" x2="98.29" y2="613.50" stroke="#555" stroke-width="0.6"/>
<line x1="103.04" y1="611.50" x2="103.04" y2="613.50" stroke="#555" stroke-width="0.6"/>
<line x1="107.78" y1="611.50" x2="107.78" y2="613.50" stroke="#555" stroke-width="0.6"/>
<line x1="112.53" y1="611.50" x2="112.53" y2="613.50" stroke="#555" stroke-width="0.6"/>
<line x1="117.28" y1="611.50" x2="117.28" y2="614.70" stroke="#555" stroke-width="0.6"/>
<line x1="122.03" y1="611.50" x2="122.03" y2="613.50" stroke="#555" stroke-width="0.6"/>
<line x1="126.78" y1="611.50" x2="126.78" y2="613.50" stroke="#555" stroke-width="0.6"/>
<line x1="131.52" y1="611.50" x2="131.52" y2="613.50" stroke="#555" stroke-width="0.6"/>
<line x1="136.27" y1="611.50" x2="136.27" y2="613.50" stroke="#555" stroke-width="0.6"/>
<line x1="141.02" y1="611.50" x2="141.02" y2="614.70" stroke="#555" stroke-width="0.6"/>
<line x1="145.77" y1="611.50" x2="145.77" y2="613.50" stroke="#555" stroke-width="0.6"/>
<line x1="150.52" y1="611.50" x2="150.52" y2="613.50" stroke="#555" stroke-width="0.6"/>
<line x1="155.26" y1="611.50" x2="155.26" y2="613.50" stroke="#555" stroke-width="0.6"/>
<line x1="160.01" y1="611.50" x2="160.01" y2="613.50" stroke="#555" stroke-width="0.6"/>
<line x1="164.76" y1="611.50" x2="164.76" y2="614.70" stroke="#555" stroke-width="0.6"/>
<line x1="169.51" y1="611.50" x2="169.51" y2="613.50" stroke="#555" stroke-width="0.6"/>
<line x1="174.26" y1="611.50" x2="174.26" y2="613.50" stroke="#555" stroke-width="0.6"/>
<line x1="179.00" y1="611.50" x2="179.00" y2="613.50" stroke="#555" stroke-width="0.6"/>
<line x1="183.75" y1="611.50" x2="183.75" y2="613.50" stroke="#555" stroke-width="0.6"/>
<line x1="188.50" y1="611.50" x2="188.50" y2="614.70" stroke="#555" stroke-width="0.6"/>
<text x="69.80" y="620.50" font-size="4.6" text-anchor="middle" fill="#555">0</text>
<text x="93.54" y="620.50" font-size="4.6" text-anchor="middle" fill="#555">50</text>
<text x="117.28" y="620.50" font-size="4.6" text-anchor="middle" fill="#555">100</text>
<text x="141.02" y="620.50" font-size="4.6" text-anchor="middle" fill="#555">150</text>
<text x="164.76" y="620.50" font-size="4.6" text-anchor="middle" fill="#555">200</text>
<text x="188.50" y="620.50" font-size="4.6" text-anchor="middle" fill="#555">250</text>
<text x="130.15" y="625.00" font-size="4.4" text-anchor="middle" fill="#555">PI</text>
<text x="121.60" y="532.80" font-size="10.2" font-weight="bold" fill="#111">%G<tspan dy="2.8" font-size="7.2">1</tspan><tspan dy="-2.8">= 58.08</tspan></text>
<text x="121.60" y="544.00" font-size="10.2" font-weight="bold" fill="#111">%S = 30.76</text>
<text x="121.60" y="555.20" font-size="10.2" font-weight="bold" fill="#111">%G<tspan dy="2.8" font-size="7.2">2</tspan><tspan dy="-2.8">&#8211;M = 11.16</tspan></text>
<polygon points="216.20,611.20 216.20,598.50 219.00,602.50 225.00,604.50 240.00,603.50 257.00,605.00 260.00,607.00 282.00,607.50 290.00,608.00 300.00,610.50 302.00,611.20 302.00,611.20" fill="#c7c3e4"/>
<polygon points="240.60,611.20 240.60,610.75 240.85,610.63 241.10,610.48 241.35,610.30 241.60,610.07 241.85,609.80 242.10,609.47 242.35,609.07 242.60,608.61 242.85,608.06 243.10,607.42 243.35,606.67 243.60,605.81 243.85,604.82 244.10,603.70 244.35,602.44 244.60,601.03 244.85,599.46 245.10,597.73 245.35,595.84 245.60,593.79 245.85,591.59 246.10,589.25 246.35,586.78 246.60,584.19 246.85,581.51 247.10,578.76 247.35,575.97 247.60,573.18 247.85,570.42 248.10,567.72 248.35,565.12 248.60,562.67 248.85,560.39 249.10,558.34 249.35,556.53 249.60,555.01 249.85,553.80 250.10,552.92 250.35,552.38 250.60,552.20 250.85,552.38 251.10,552.92 251.35,553.80 251.60,555.01 251.85,556.53 252.10,558.34 252.35,560.39 252.60,562.67 252.85,565.12 253.10,567.72 253.35,570.42 253.60,573.18 253.85,575.97 254.10,578.76 254.35,581.51 254.60,584.19 254.85,586.78 255.10,589.25 255.35,591.59 255.60,593.79 255.85,595.84 256.10,597.73 256.35,599.46 256.60,601.03 256.85,602.44 257.10,603.70 257.35,604.82 257.60,605.81 257.85,606.67 258.10,607.42 258.35,608.06 258.60,608.61 258.85,609.07 259.10,609.47 259.35,609.80 259.60,610.07 259.85,610.30 260.10,610.48 260.35,610.63 260.60,610.75 260.60,611.20" fill="#e61e26" stroke="#b0141c" stroke-width="0.5"/>
<polygon points="276.05,611.20 276.05,611.13 276.30,611.12 276.55,611.10 276.80,611.08 277.05,611.06 277.30,611.03 277.55,611.00 277.80,610.96 278.05,610.91 278.30,610.86 278.55,610.80 278.80,610.73 279.05,610.66 279.30,610.57 279.55,610.47 279.80,610.36 280.05,610.23 280.30,610.09 280.55,609.94 280.80,609.77 281.05,609.58 281.30,609.37 281.55,609.15 281.80,608.91 282.05,608.65 282.30,608.37 282.55,608.07 282.80,607.76 283.05,607.43 283.30,607.08 283.55,606.72 283.80,606.35 284.05,605.96 284.30,605.57 284.55,605.17 284.80,604.77 285.05,604.37 285.30,603.97 285.55,603.58 285.80,603.20 286.05,602.83 286.30,602.48 286.55,602.15 286.80,601.85 287.05,601.57 287.30,601.32 287.55,601.11 287.80,600.93 288.05,600.78 288.30,600.68 288.55,600.62 288.80,600.60 289.05,600.62 289.30,600.68 289.55,600.78 289.80,600.93 290.05,601.11 290.30,601.32 290.55,601.57 290.80,601.85 291.05,602.15 291.30,602.48 291.55,602.83 291.80,603.20 292.05,603.58 292.30,603.97 292.55,604.37 292.80,604.77 293.05,605.17 293.30,605.57 293.55,605.96 293.80,606.35 294.05,606.72 294.30,607.08 294.55,607.43 294.80,607.76 295.05,608.07 295.30,608.37 295.55,608.65 295.80,608.91 296.05,609.15 296.30,609.37 296.55,609.58 296.80,609.77 297.05,609.94 297.30,610.09 297.55,610.23 297.80,610.36 298.05,610.47 298.30,610.57 298.55,610.66 298.80,610.73 299.05,610.80 299.30,610.86 299.55,610.91 299.80,610.96 300.05,611.00 300.30,611.03 300.55,611.06 300.80,611.08 301.05,611.10 301.30,611.12 301.55,611.13 301.55,611.20" fill="#3550b8" stroke="#243a90" stroke-width="0.5"/>
<polyline points="216.10,609.02 216.80,598.00 217.50,597.43 218.20,598.52 218.90,598.65 219.60,599.95 220.30,602.31 221.00,598.86 221.70,601.19 222.40,602.79 223.10,600.31 223.80,603.04 224.50,603.62 225.20,602.72 225.90,602.89 226.60,602.83 227.30,602.64 228.00,603.43 228.70,603.65 229.40,603.30 230.10,602.83 230.80,601.25 231.50,601.00 232.20,602.81 232.90,601.63 233.60,602.40 234.30,601.41 235.00,601.87 235.70,601.24 236.40,602.56 237.10,601.05 237.80,602.12 238.50,599.11 239.20,600.18 239.90,597.13 240.60,599.07 241.30,598.68 242.00,597.22 242.70,596.87 243.40,594.66 244.10,592.92 244.80,589.80 245.50,590.26 246.20,578.82 246.90,570.97 247.60,554.87 248.30,543.97 249.00,533.04 249.70,524.46 250.40,527.85 251.10,536.69 251.80,545.77 252.50,552.85 253.20,561.91 253.90,568.42 254.60,575.71 255.30,584.58 256.00,588.17 256.70,590.73 257.40,595.29 258.10,596.97 258.80,598.10 259.50,600.90 260.20,600.12 260.90,599.74 261.60,599.67 262.30,600.81 263.00,602.14 263.70,602.42 264.40,603.05 265.10,602.62 265.80,601.69 266.50,602.00 267.20,603.47 267.90,602.96 268.60,603.80 269.30,603.06 270.00,601.57 270.70,602.21 271.40,601.86 272.10,601.89 272.80,602.20 273.50,602.16 274.20,603.74 274.90,600.96 275.60,600.49 276.30,601.15 277.00,598.98 277.70,600.98 278.40,600.62 279.10,600.20 279.80,599.80 280.50,597.74 281.20,597.16 281.90,594.94 282.60,597.53 283.30,592.89 284.00,594.52 284.70,592.78 285.40,592.83 286.10,591.30 286.80,590.96 287.50,591.43 288.20,591.56 288.90,591.72 289.60,592.20 290.30,595.87 291.00,593.02 291.70,595.11 292.40,596.16 293.10,597.96 293.80,601.42 294.50,601.54 295.20,602.72 295.90,605.58 296.60,604.90 297.30,605.65 298.00,606.73 298.70,606.12 299.40,608.58 300.10,608.07 300.80,608.27 301.50,609.93 302.20,609.11 302.90,610.01 303.60,608.79 304.30,609.14 305.00,610.11 305.70,608.81 306.40,609.72 307.10,610.54 307.80,609.15 308.50,610.09 309.20,610.17 309.90,609.93 310.60,610.21 311.30,610.08 312.00,608.77 312.70,609.11 313.40,609.77 314.10,610.60 314.80,609.16 315.50,609.87 316.20,608.99 316.90,610.37 317.60,609.59 318.30,609.74 319.00,610.03 319.70,609.00 320.40,610.14 321.10,610.28 321.80,610.39 322.50,609.28 323.20,609.19 323.90,609.06 324.60,610.47 325.30,609.58 326.00,609.49 326.70,609.74 327.40,610.08 328.10,609.35 328.80,609.39" fill="none" stroke="#9a9a9a" stroke-width="0.9"/>
<polyline points="216.10,610.90 216.80,599.75 217.50,598.00 218.20,599.87 218.90,600.20 219.60,601.26 220.30,602.69 221.00,600.53 221.70,603.32 222.40,603.12 223.10,601.86 223.80,604.46 224.50,603.91 225.20,604.34 225.90,604.89 226.60,603.29 227.30,604.33 228.00,605.16 228.70,604.01 229.40,605.02 230.10,603.26 230.80,602.77 231.50,602.58 232.20,604.56 232.90,602.75 233.60,603.48 234.30,602.81 235.00,603.06 235.70,602.82 236.40,603.11 237.10,601.42 237.80,602.83 238.50,599.70 239.20,602.20 239.90,598.81 240.60,600.84 241.30,600.54 242.00,597.52 242.70,597.29 243.40,595.06 244.10,594.01 244.80,591.74 245.50,591.60 246.20,580.87 246.90,571.39 247.60,556.52 248.30,545.58 249.00,533.38 249.70,526.24 250.40,528.24 251.10,538.25 251.80,546.66 252.50,554.81 253.20,562.35 253.90,569.82 254.60,577.20 255.30,585.48 256.00,589.19 256.70,592.41 257.40,597.22 258.10,598.02 258.80,600.21 259.50,601.39 260.20,601.62 260.90,601.57 261.60,601.21 262.30,602.75 263.00,603.69 263.70,603.53 264.40,604.43 265.10,604.14 265.80,603.29 266.50,603.23 267.20,604.14 267.90,604.28 268.60,604.49 269.30,604.29 270.00,603.50 270.70,604.04 271.40,602.40 272.10,603.13 272.80,603.63 273.50,603.33 274.20,604.28 274.90,602.40 275.60,601.95 276.30,602.61 277.00,601.12 277.70,602.09 278.40,601.86 279.10,601.41 279.80,601.09 280.50,598.99 281.20,597.95 281.90,596.74 282.60,597.80 283.30,594.83 284.00,595.02 284.70,594.60 285.40,593.47 286.10,592.96 286.80,592.96 287.50,592.55 288.20,592.11 288.90,592.26 289.60,592.67 290.30,596.14 291.00,595.08 291.70,596.54 292.40,598.12 293.10,598.67 293.80,602.71 294.50,602.27 295.20,603.35 295.90,605.82 296.60,605.76 297.30,606.12 298.00,607.84 298.70,608.13 299.40,609.03 300.10,610.06 300.80,610.27 301.50,610.50 302.20,610.73 302.90,610.90 303.60,610.90 304.30,610.90 305.00,610.90 305.70,610.90 306.40,610.90 307.10,610.90 307.80,610.90 308.50,610.90 309.20,610.90 309.90,610.90 310.60,610.90 311.30,610.90 312.00,610.90 312.70,610.90 313.40,610.90 314.10,610.90 314.80,610.90 315.50,610.90 316.20,610.90 316.90,610.90 317.60,610.90 318.30,610.90 319.00,610.90 319.70,610.90 320.40,610.90 321.10,610.90 321.80,610.90 322.50,610.90 323.20,610.90 323.90,610.90 324.60,610.90 325.30,610.90 326.00,610.90 326.70,610.90 327.40,610.90 328.10,610.90 328.80,610.90" fill="none" stroke="#444" stroke-width="0.7"/>
<line x1="209.50" y1="519.20" x2="209.50" y2="611.70" stroke="#555" stroke-width="0.9"/>
<line x1="209.00" y1="611.20" x2="328.90" y2="611.20" stroke="#555" stroke-width="0.9"/>
<line x1="205.30" y1="611.20" x2="209.50" y2="611.20" stroke="#555" stroke-width="0.6"/>
<line x1="206.90" y1="607.42" x2="209.50" y2="607.42" stroke="#555" stroke-width="0.6"/>
<line x1="206.90" y1="603.64" x2="209.50" y2="603.64" stroke="#555" stroke-width="0.6"/>
<line x1="206.90" y1="599.86" x2="209.50" y2="599.86" stroke="#555" stroke-width="0.6"/>
<line x1="206.90" y1="596.08" x2="209.50" y2="596.08" stroke="#555" stroke-width="0.6"/>
<line x1="205.30" y1="592.30" x2="209.50" y2="592.30" stroke="#555" stroke-width="0.6"/>
<line x1="206.90" y1="588.52" x2="209.50" y2="588.52" stroke="#555" stroke-width="0.6"/>
<line x1="206.90" y1="584.74" x2="209.50" y2="584.74" stroke="#555" stroke-width="0.6"/>
<line x1="206.90" y1="580.96" x2="209.50" y2="580.96" stroke="#555" stroke-width="0.6"/>
<line x1="206.90" y1="577.18" x2="209.50" y2="577.18" stroke="#555" stroke-width="0.6"/>
<line x1="205.30" y1="573.40" x2="209.50" y2="573.40" stroke="#555" stroke-width="0.6"/>
<line x1="206.90" y1="569.62" x2="209.50" y2="569.62" stroke="#555" stroke-width="0.6"/>
<line x1="206.90" y1="565.84" x2="209.50" y2="565.84" stroke="#555" stroke-width="0.6"/>
<line x1="206.90" y1="562.06" x2="209.50" y2="562.06" stroke="#555" stroke-width="0.6"/>
<line x1="206.90" y1="558.28" x2="209.50" y2="558.28" stroke="#555" stroke-width="0.6"/>
<line x1="205.30" y1="554.50" x2="209.50" y2="554.50" stroke="#555" stroke-width="0.6"/>
<line x1="206.90" y1="550.72" x2="209.50" y2="550.72" stroke="#555" stroke-width="0.6"/>
<line x1="206.90" y1="546.94" x2="209.50" y2="546.94" stroke="#555" stroke-width="0.6"/>
<line x1="206.90" y1="543.16" x2="209.50" y2="543.16" stroke="#555" stroke-width="0.6"/>
<line x1="206.90" y1="539.38" x2="209.50" y2="539.38" stroke="#555" stroke-width="0.6"/>
<line x1="205.30" y1="535.60" x2="209.50" y2="535.60" stroke="#555" stroke-width="0.6"/>
<line x1="206.90" y1="531.82" x2="209.50" y2="531.82" stroke="#555" stroke-width="0.6"/>
<line x1="206.90" y1="528.04" x2="209.50" y2="528.04" stroke="#555" stroke-width="0.6"/>
<line x1="206.90" y1="524.26" x2="209.50" y2="524.26" stroke="#555" stroke-width="0.6"/>
<line x1="206.90" y1="520.48" x2="209.50" y2="520.48" stroke="#555" stroke-width="0.6"/>
<text transform="translate(203.30,611.20) rotate(-90)" font-size="5" text-anchor="middle" fill="#444">0</text>
<text transform="translate(203.30,592.30) rotate(-90)" font-size="5" text-anchor="middle" fill="#444">20</text>
<text transform="translate(203.30,573.40) rotate(-90)" font-size="5" text-anchor="middle" fill="#444">40</text>
<text transform="translate(203.30,554.50) rotate(-90)" font-size="5" text-anchor="middle" fill="#444">60</text>
<text transform="translate(203.30,535.60) rotate(-90)" font-size="5" text-anchor="middle" fill="#444">80</text>
<text transform="translate(197.50,564.90) rotate(-90)" font-size="4.6" text-anchor="middle" fill="#555">Number</text>
<line x1="209.50" y1="611.20" x2="209.50" y2="614.40" stroke="#555" stroke-width="0.6"/>
<line x1="214.22" y1="611.20" x2="214.22" y2="613.20" stroke="#555" stroke-width="0.6"/>
<line x1="218.93" y1="611.20" x2="218.93" y2="613.20" stroke="#555" stroke-width="0.6"/>
<line x1="223.65" y1="611.20" x2="223.65" y2="613.20" stroke="#555" stroke-width="0.6"/>
<line x1="228.36" y1="611.20" x2="228.36" y2="613.20" stroke="#555" stroke-width="0.6"/>
<line x1="233.08" y1="611.20" x2="233.08" y2="614.40" stroke="#555" stroke-width="0.6"/>
<line x1="237.80" y1="611.20" x2="237.80" y2="613.20" stroke="#555" stroke-width="0.6"/>
<line x1="242.51" y1="611.20" x2="242.51" y2="613.20" stroke="#555" stroke-width="0.6"/>
<line x1="247.23" y1="611.20" x2="247.23" y2="613.20" stroke="#555" stroke-width="0.6"/>
<line x1="251.94" y1="611.20" x2="251.94" y2="613.20" stroke="#555" stroke-width="0.6"/>
<line x1="256.66" y1="611.20" x2="256.66" y2="614.40" stroke="#555" stroke-width="0.6"/>
<line x1="261.38" y1="611.20" x2="261.38" y2="613.20" stroke="#555" stroke-width="0.6"/>
<line x1="266.09" y1="611.20" x2="266.09" y2="613.20" stroke="#555" stroke-width="0.6"/>
<line x1="270.81" y1="611.20" x2="270.81" y2="613.20" stroke="#555" stroke-width="0.6"/>
<line x1="275.52" y1="611.20" x2="275.52" y2="613.20" stroke="#555" stroke-width="0.6"/>
<line x1="280.24" y1="611.20" x2="280.24" y2="614.40" stroke="#555" stroke-width="0.6"/>
<line x1="284.96" y1="611.20" x2="284.96" y2="613.20" stroke="#555" stroke-width="0.6"/>
<line x1="289.67" y1="611.20" x2="289.67" y2="613.20" stroke="#555" stroke-width="0.6"/>
<line x1="294.39" y1="611.20" x2="294.39" y2="613.20" stroke="#555" stroke-width="0.6"/>
<line x1="299.10" y1="611.20" x2="299.10" y2="613.20" stroke="#555" stroke-width="0.6"/>
<line x1="303.82" y1="611.20" x2="303.82" y2="614.40" stroke="#555" stroke-width="0.6"/>
<line x1="308.54" y1="611.20" x2="308.54" y2="613.20" stroke="#555" stroke-width="0.6"/>
<line x1="313.25" y1="611.20" x2="313.25" y2="613.20" stroke="#555" stroke-width="0.6"/>
<line x1="317.97" y1="611.20" x2="317.97" y2="613.20" stroke="#555" stroke-width="0.6"/>
<line x1="322.68" y1="611.20" x2="322.68" y2="613.20" stroke="#555" stroke-width="0.6"/>
<line x1="327.40" y1="611.20" x2="327.40" y2="614.40" stroke="#555" stroke-width="0.6"/>
<text x="209.50" y="620.20" font-size="4.6" text-anchor="middle" fill="#555">0</text>
<text x="233.08" y="620.20" font-size="4.6" text-anchor="middle" fill="#555">50</text>
<text x="256.66" y="620.20" font-size="4.6" text-anchor="middle" fill="#555">100</text>
<text x="280.24" y="620.20" font-size="4.6" text-anchor="middle" fill="#555">150</text>
<text x="303.82" y="620.20" font-size="4.6" text-anchor="middle" fill="#555">200</text>
<text x="327.40" y="620.20" font-size="4.6" text-anchor="middle" fill="#555">250</text>
<text x="269.45" y="624.70" font-size="4.4" text-anchor="middle" fill="#555">PI</text>
<text x="259.60" y="532.80" font-size="10.2" font-weight="bold" fill="#111">%G<tspan dy="2.8" font-size="7.2">1</tspan><tspan dy="-2.8">= 58.33</tspan></text>
<text x="259.60" y="544.00" font-size="10.2" font-weight="bold" fill="#111">%S = 20.20</text>
<text x="259.60" y="555.20" font-size="10.2" font-weight="bold" fill="#111">%G<tspan dy="2.8" font-size="7.2">2</tspan><tspan dy="-2.8">&#8211;M = 21.47</tspan></text>
<text x="259.60" y="566.40" font-size="10.2" font-weight="bold" fill="#111">%Debris = 37.41</text>
<polygon points="366.70,611.20 366.70,595.80 379.20,594.80 388.80,586.20 395.60,578.50 398.00,577.00 401.00,585.00 404.00,596.00 406.20,599.60 417.70,600.60 431.20,601.50 435.00,604.40 440.00,607.00 446.00,610.00 448.00,611.20 448.00,611.20" fill="#c7c3e4"/>
<polygon points="392.55,611.20 392.55,610.89 392.80,610.76 393.05,610.59 393.30,610.37 393.55,610.08 393.80,609.70 394.05,609.22 394.30,608.62 394.55,607.87 394.80,606.96 395.05,605.87 395.30,604.56 395.55,603.04 395.80,601.28 396.05,599.29 396.30,597.06 396.55,594.62 396.80,591.98 397.05,589.18 397.30,586.27 397.55,583.31 397.80,580.37 398.05,577.51 398.30,574.82 398.55,572.38 398.80,570.26 399.05,568.53 399.30,567.25 399.55,566.47 399.80,566.20 400.05,566.47 400.30,567.25 400.55,568.53 400.80,570.26 401.05,572.38 401.30,574.82 401.55,577.51 401.80,580.37 402.05,583.31 402.30,586.27 402.55,589.18 402.80,591.98 403.05,594.62 403.30,597.06 403.55,599.29 403.80,601.28 404.05,603.04 404.30,604.56 404.55,605.87 404.80,606.96 405.05,607.87 405.30,608.62 405.55,609.22 405.80,609.70 406.05,610.08 406.30,610.37 406.55,610.59 406.80,610.76 407.05,610.89 407.05,611.20" fill="#e61e26" stroke="#b0141c" stroke-width="0.5"/>
<polygon points="427.90,611.20 427.90,611.10 428.15,611.07 428.40,611.04 428.65,610.99 428.90,610.94 429.15,610.88 429.40,610.80 429.65,610.71 429.90,610.61 430.15,610.48 430.40,610.33 430.65,610.16 430.90,609.97 431.15,609.74 431.40,609.48 431.65,609.20 431.90,608.87 432.15,608.51 432.40,608.12 432.65,607.69 432.90,607.22 433.15,606.71 433.40,606.18 433.65,605.61 433.90,605.02 434.15,604.41 434.40,603.78 434.65,603.14 434.90,602.50 435.15,601.87 435.40,601.25 435.65,600.66 435.90,600.10 436.15,599.58 436.40,599.10 436.65,598.69 436.90,598.34 437.15,598.07 437.40,597.86 437.65,597.74 437.90,597.70 438.15,597.74 438.40,597.86 438.65,598.07 438.90,598.34 439.15,598.69 439.40,599.10 439.65,599.58 439.90,600.10 440.15,600.66 440.40,601.25 440.65,601.87 440.90,602.50 441.15,603.14 441.40,603.78 441.65,604.41 441.90,605.02 442.15,605.61 442.40,606.18 442.65,606.71 442.90,607.22 443.15,607.69 443.40,608.12 443.65,608.51 443.90,608.87 444.15,609.20 444.40,609.48 444.65,609.74 444.90,609.97 445.15,610.16 445.40,610.33 445.65,610.48 445.90,610.61 446.15,610.71 446.40,610.80 446.65,610.88 446.90,610.94 447.15,610.99 447.40,611.04 447.65,611.07 447.90,611.10 447.90,611.20" fill="#3550b8" stroke="#243a90" stroke-width="0.5"/>
<polyline points="366.60,609.39 367.30,584.80 368.00,587.31 368.70,591.21 369.40,591.75 370.10,589.35 370.80,591.32 371.50,591.67 372.20,593.43 372.90,589.19 373.60,592.15 374.30,592.23 375.00,591.67 375.70,591.88 376.40,591.94 377.10,595.00 377.80,593.89 378.50,594.69 379.20,594.37 379.90,592.06 380.60,589.10 381.30,588.98 382.00,588.74 382.70,588.28 383.40,587.19 384.10,584.47 384.80,585.68 385.50,583.54 386.20,583.27 386.90,581.40 387.60,582.73 388.30,580.72 389.00,578.70 389.70,576.21 390.40,577.94 391.10,575.81 391.80,574.46 392.50,573.31 393.20,572.99 393.90,575.51 394.60,574.60 395.30,569.74 396.00,564.24 396.70,559.14 397.40,545.70 398.10,532.88 398.80,522.80 399.50,521.68 400.20,528.02 400.90,535.70 401.60,540.15 402.30,549.82 403.00,559.74 403.70,564.21 404.40,572.89 405.10,579.19 405.80,584.95 406.50,589.27 407.20,590.62 407.90,587.96 408.60,590.72 409.30,592.69 410.00,593.61 410.70,591.76 411.40,593.12 412.10,590.80 412.80,593.21 413.50,594.15 414.20,594.04 414.90,593.10 415.60,594.07 416.30,590.36 417.00,592.28 417.70,593.02 418.40,592.86 419.10,592.96 419.80,594.39 420.50,592.61 421.20,593.78 421.90,591.41 422.60,593.79 423.30,594.87 424.00,594.89 424.70,592.77 425.40,591.55 426.10,594.12 426.80,594.05 427.50,594.36 428.20,593.33 428.90,594.84 429.60,592.64 430.30,594.05 431.00,593.28 431.70,592.09 432.40,591.51 433.10,587.28 433.80,589.05 434.50,586.63 435.20,585.67 435.90,586.48 436.60,581.39 437.30,584.59 438.00,584.53 438.70,585.52 439.40,585.87 440.10,588.93 440.80,591.63 441.50,593.56 442.20,600.35 442.90,602.19 443.60,602.67 444.30,603.98 445.00,604.27 445.70,605.68 446.40,608.67 447.10,609.07 447.80,607.50 448.50,608.37 449.20,608.79 449.90,610.33 450.60,609.05 451.30,608.99 452.00,610.27 452.70,608.98 453.40,610.73 454.10,609.60 454.80,610.56 455.50,610.39 456.20,609.07 456.90,610.32 457.60,609.52 458.30,609.10 459.00,608.72 459.70,610.14 460.40,609.83 461.10,609.27 461.80,610.42 462.50,609.05 463.20,609.58 463.90,608.81 464.60,609.38 465.30,610.53 466.00,609.70 466.70,608.95 467.40,609.13 468.10,610.01 468.80,609.22 469.50,610.54 470.20,608.75 470.90,610.50 471.60,609.96 472.30,610.40 473.00,609.39 473.70,608.77 474.40,608.99 475.10,609.97 475.80,608.68 476.50,608.86 477.20,610.31 477.90,610.52 478.60,610.47 479.30,610.43 480.00,609.82" fill="none" stroke="#9a9a9a" stroke-width="0.9"/>
<polyline points="366.60,610.90 367.30,585.98 368.00,587.97 368.70,591.73 369.40,593.23 370.10,590.86 370.80,592.27 371.50,593.46 372.20,593.80 372.90,591.47 373.60,593.03 374.30,593.46 375.00,593.53 375.70,592.93 376.40,593.19 377.10,595.20 377.80,594.26 378.50,595.70 379.20,594.77 379.90,592.43 380.60,591.02 381.30,589.48 382.00,589.22 382.70,588.42 383.40,587.83 384.10,585.91 384.80,587.51 385.50,584.41 386.20,585.09 386.90,582.04 387.60,583.77 388.30,581.22 389.00,580.21 389.70,577.84 390.40,578.27 391.10,576.66 391.80,575.92 392.50,574.38 393.20,574.32 393.90,576.40 394.60,575.76 395.30,571.41 396.00,564.41 396.70,559.51 397.40,546.34 398.10,534.56 398.80,524.66 399.50,522.38 400.20,528.53 400.90,536.57 401.60,541.97 402.30,550.54 403.00,560.89 403.70,565.68 404.40,573.89 405.10,580.50 405.80,585.82 406.50,589.92 407.20,590.78 407.90,590.00 408.60,591.76 409.30,592.93 410.00,594.47 410.70,592.79 411.40,593.56 412.10,593.01 412.80,593.78 413.50,595.08 414.20,595.05 414.90,594.70 415.60,595.02 416.30,592.37 417.00,593.43 417.70,594.74 418.40,593.13 419.10,593.50 419.80,595.65 420.50,593.26 421.20,595.23 421.90,592.56 422.60,595.73 423.30,595.30 424.00,595.52 424.70,593.41 425.40,593.65 426.10,594.63 426.80,596.31 427.50,595.42 428.20,594.56 428.90,596.99 429.60,594.01 430.30,594.42 431.00,594.21 431.70,593.69 432.40,592.03 433.10,588.80 433.80,589.40 434.50,588.04 435.20,587.78 435.90,586.66 436.60,583.52 437.30,586.32 438.00,585.14 438.70,587.55 439.40,586.98 440.10,589.36 440.80,592.64 441.50,595.09 442.20,600.99 442.90,602.69 443.60,603.70 444.30,604.91 445.00,605.85 445.70,607.08 446.40,608.81 447.10,609.25 447.80,609.77 448.50,610.23 449.20,610.58 449.90,610.90 450.60,610.90 451.30,610.90 452.00,610.90 452.70,610.90 453.40,610.90 454.10,610.90 454.80,610.90 455.50,610.90 456.20,610.90 456.90,610.90 457.60,610.90 458.30,610.90 459.00,610.90 459.70,610.90 460.40,610.90 461.10,610.90 461.80,610.90 462.50,610.90 463.20,610.90 463.90,610.90 464.60,610.90 465.30,610.90 466.00,610.90 466.70,610.90 467.40,610.90 468.10,610.90 468.80,610.90 469.50,610.90 470.20,610.90 470.90,610.90 471.60,610.90 472.30,610.90 473.00,610.90 473.70,610.90 474.40,610.90 475.10,610.90 475.80,610.90 476.50,610.90 477.20,610.90 477.90,610.90 478.60,610.90 479.30,610.90 480.00,610.90" fill="none" stroke="#444" stroke-width="0.7"/>
<line x1="360.00" y1="519.20" x2="360.00" y2="611.70" stroke="#555" stroke-width="0.9"/>
<line x1="359.50" y1="611.20" x2="480.20" y2="611.20" stroke="#555" stroke-width="0.9"/>
<line x1="355.80" y1="611.20" x2="360.00" y2="611.20" stroke="#555" stroke-width="0.6"/>
<line x1="357.40" y1="607.00" x2="360.00" y2="607.00" stroke="#555" stroke-width="0.6"/>
<line x1="357.40" y1="602.80" x2="360.00" y2="602.80" stroke="#555" stroke-width="0.6"/>
<line x1="357.40" y1="598.60" x2="360.00" y2="598.60" stroke="#555" stroke-width="0.6"/>
<line x1="357.40" y1="594.40" x2="360.00" y2="594.40" stroke="#555" stroke-width="0.6"/>
<line x1="355.80" y1="590.20" x2="360.00" y2="590.20" stroke="#555" stroke-width="0.6"/>
<line x1="357.40" y1="586.00" x2="360.00" y2="586.00" stroke="#555" stroke-width="0.6"/>
<line x1="357.40" y1="581.80" x2="360.00" y2="581.80" stroke="#555" stroke-width="0.6"/>
<line x1="357.40" y1="577.60" x2="360.00" y2="577.60" stroke="#555" stroke-width="0.6"/>
<line x1="357.40" y1="573.40" x2="360.00" y2="573.40" stroke="#555" stroke-width="0.6"/>
<line x1="355.80" y1="569.20" x2="360.00" y2="569.20" stroke="#555" stroke-width="0.6"/>
<line x1="357.40" y1="565.00" x2="360.00" y2="565.00" stroke="#555" stroke-width="0.6"/>
<line x1="357.40" y1="560.80" x2="360.00" y2="560.80" stroke="#555" stroke-width="0.6"/>
<line x1="357.40" y1="556.60" x2="360.00" y2="556.60" stroke="#555" stroke-width="0.6"/>
<line x1="357.40" y1="552.40" x2="360.00" y2="552.40" stroke="#555" stroke-width="0.6"/>
<line x1="355.80" y1="548.20" x2="360.00" y2="548.20" stroke="#555" stroke-width="0.6"/>
<line x1="357.40" y1="544.00" x2="360.00" y2="544.00" stroke="#555" stroke-width="0.6"/>
<line x1="357.40" y1="539.80" x2="360.00" y2="539.80" stroke="#555" stroke-width="0.6"/>
<line x1="357.40" y1="535.60" x2="360.00" y2="535.60" stroke="#555" stroke-width="0.6"/>
<line x1="357.40" y1="531.40" x2="360.00" y2="531.40" stroke="#555" stroke-width="0.6"/>
<line x1="355.80" y1="527.20" x2="360.00" y2="527.20" stroke="#555" stroke-width="0.6"/>
<line x1="357.40" y1="523.00" x2="360.00" y2="523.00" stroke="#555" stroke-width="0.6"/>
<text transform="translate(353.80,611.20) rotate(-90)" font-size="5" text-anchor="middle" fill="#444">0</text>
<text transform="translate(353.80,590.20) rotate(-90)" font-size="5" text-anchor="middle" fill="#444">20</text>
<text transform="translate(353.80,569.20) rotate(-90)" font-size="5" text-anchor="middle" fill="#444">40</text>
<text transform="translate(353.80,548.20) rotate(-90)" font-size="5" text-anchor="middle" fill="#444">60</text>
<text transform="translate(353.80,527.20) rotate(-90)" font-size="5" text-anchor="middle" fill="#444">80</text>
<text transform="translate(348.00,564.90) rotate(-90)" font-size="4.6" text-anchor="middle" fill="#555">Number</text>
<line x1="360.00" y1="611.20" x2="360.00" y2="614.40" stroke="#555" stroke-width="0.6"/>
<line x1="364.75" y1="611.20" x2="364.75" y2="613.20" stroke="#555" stroke-width="0.6"/>
<line x1="369.50" y1="611.20" x2="369.50" y2="613.20" stroke="#555" stroke-width="0.6"/>
<line x1="374.24" y1="611.20" x2="374.24" y2="613.20" stroke="#555" stroke-width="0.6"/>
<line x1="378.99" y1="611.20" x2="378.99" y2="613.20" stroke="#555" stroke-width="0.6"/>
<line x1="383.74" y1="611.20" x2="383.74" y2="614.40" stroke="#555" stroke-width="0.6"/>
<line x1="388.49" y1="611.20" x2="388.49" y2="613.20" stroke="#555" stroke-width="0.6"/>
<line x1="393.24" y1="611.20" x2="393.24" y2="613.20" stroke="#555" stroke-width="0.6"/>
<line x1="397.98" y1="611.20" x2="397.98" y2="613.20" stroke="#555" stroke-width="0.6"/>
<line x1="402.73" y1="611.20" x2="402.73" y2="613.20" stroke="#555" stroke-width="0.6"/>
<line x1="407.48" y1="611.20" x2="407.48" y2="614.40" stroke="#555" stroke-width="0.6"/>
<line x1="412.23" y1="611.20" x2="412.23" y2="613.20" stroke="#555" stroke-width="0.6"/>
<line x1="416.98" y1="611.20" x2="416.98" y2="613.20" stroke="#555" stroke-width="0.6"/>
<line x1="421.72" y1="611.20" x2="421.72" y2="613.20" stroke="#555" stroke-width="0.6"/>
<line x1="426.47" y1="611.20" x2="426.47" y2="613.20" stroke="#555" stroke-width="0.6"/>
<line x1="431.22" y1="611.20" x2="431.22" y2="614.40" stroke="#555" stroke-width="0.6"/>
<line x1="435.97" y1="611.20" x2="435.97" y2="613.20" stroke="#555" stroke-width="0.6"/>
<line x1="440.72" y1="611.20" x2="440.72" y2="613.20" stroke="#555" stroke-width="0.6"/>
<line x1="445.46" y1="611.20" x2="445.46" y2="613.20" stroke="#555" stroke-width="0.6"/>
<line x1="450.21" y1="611.20" x2="450.21" y2="613.20" stroke="#555" stroke-width="0.6"/>
<line x1="454.96" y1="611.20" x2="454.96" y2="614.40" stroke="#555" stroke-width="0.6"/>
<line x1="459.71" y1="611.20" x2="459.71" y2="613.20" stroke="#555" stroke-width="0.6"/>
<line x1="464.46" y1="611.20" x2="464.46" y2="613.20" stroke="#555" stroke-width="0.6"/>
<line x1="469.20" y1="611.20" x2="469.20" y2="613.20" stroke="#555" stroke-width="0.6"/>
<line x1="473.95" y1="611.20" x2="473.95" y2="613.20" stroke="#555" stroke-width="0.6"/>
<line x1="478.70" y1="611.20" x2="478.70" y2="614.40" stroke="#555" stroke-width="0.6"/>
<text x="360.00" y="620.20" font-size="4.6" text-anchor="middle" fill="#555">0</text>
<text x="383.74" y="620.20" font-size="4.6" text-anchor="middle" fill="#555">50</text>
<text x="407.48" y="620.20" font-size="4.6" text-anchor="middle" fill="#555">100</text>
<text x="431.22" y="620.20" font-size="4.6" text-anchor="middle" fill="#555">150</text>
<text x="454.96" y="620.20" font-size="4.6" text-anchor="middle" fill="#555">200</text>
<text x="478.70" y="620.20" font-size="4.6" text-anchor="middle" fill="#555">250</text>
<text x="420.35" y="624.70" font-size="4.4" text-anchor="middle" fill="#555">PI</text>
<text x="408.30" y="532.80" font-size="10.2" font-weight="bold" fill="#111">%G<tspan dy="2.8" font-size="7.2">1</tspan><tspan dy="-2.8">= 46.14</tspan></text>
<text x="408.30" y="544.00" font-size="10.2" font-weight="bold" fill="#111">%S = 26.95</text>
<text x="408.30" y="555.20" font-size="10.2" font-weight="bold" fill="#111">%G<tspan dy="2.8" font-size="7.2">2</tspan><tspan dy="-2.8">&#8211;M = 26.91</tspan></text>
<text x="408.30" y="566.40" font-size="10.2" font-weight="bold" fill="#111">%Debris = 69.93</text>
</svg></body></html>
